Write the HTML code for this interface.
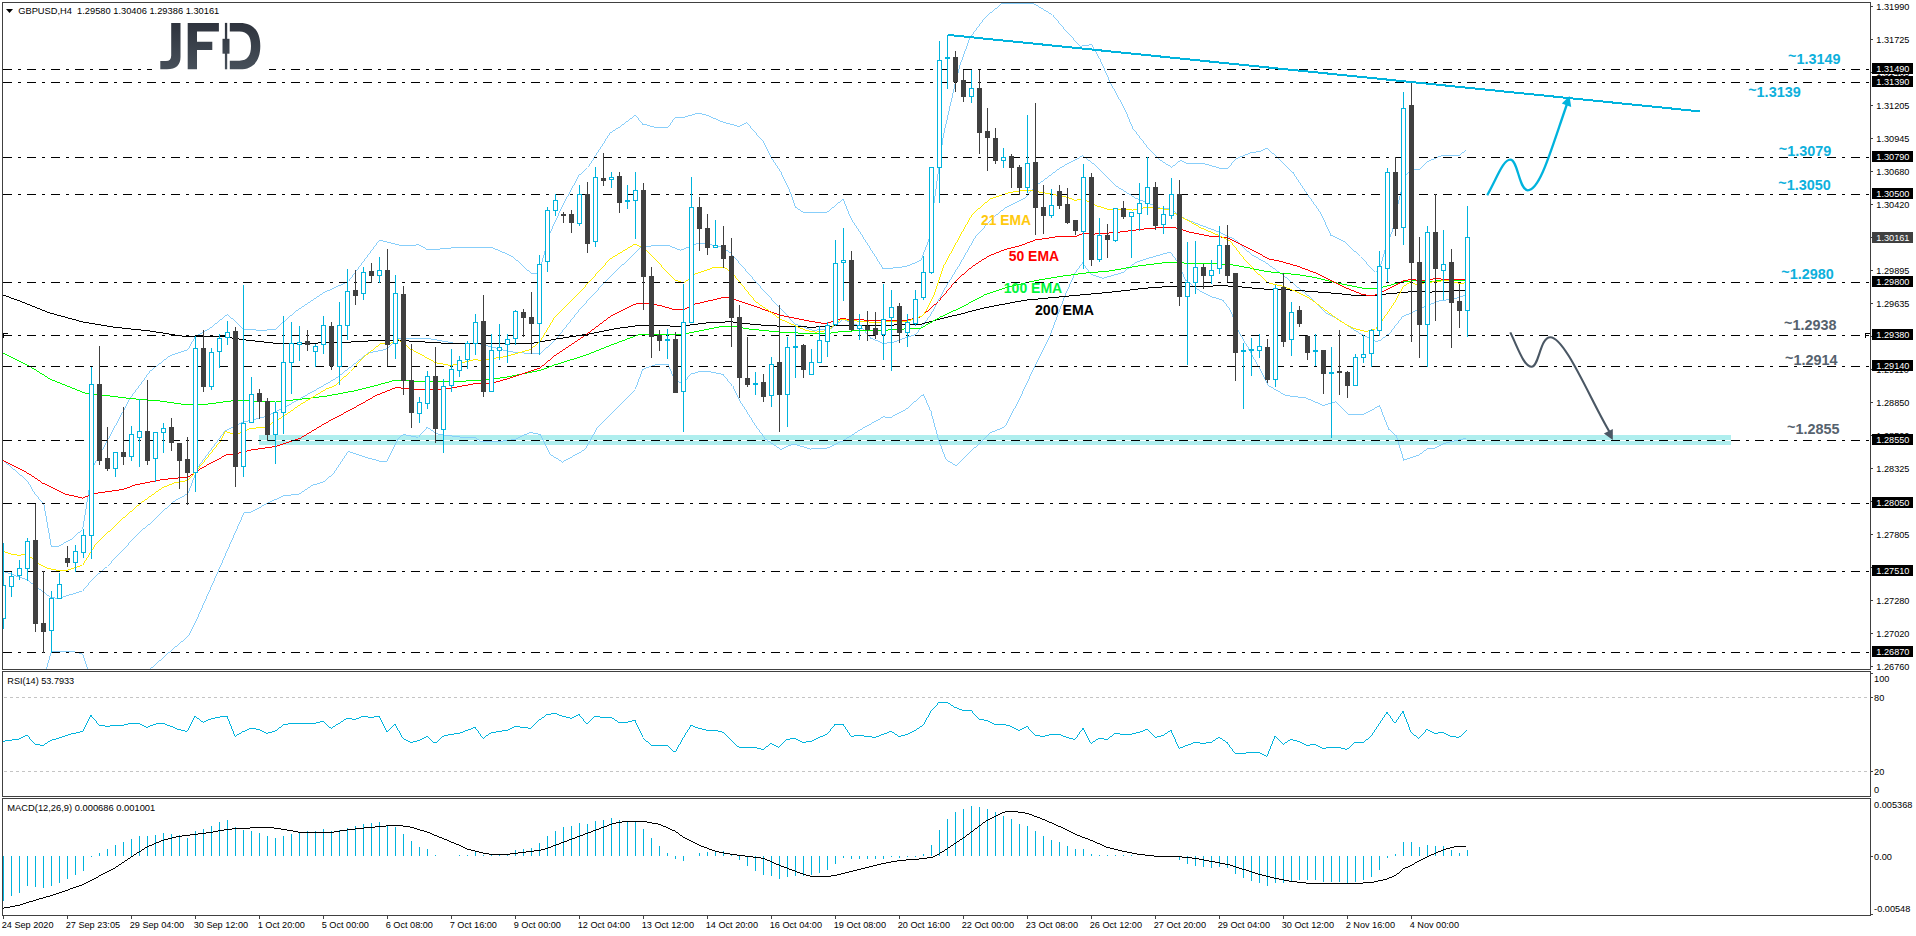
<!DOCTYPE html><html><head><meta charset="utf-8"><title>GBPUSD H4</title><style>html,body{margin:0;padding:0;background:#fff;width:1916px;height:936px;overflow:hidden}</style></head><body><svg width="1916" height="936" viewBox="0 0 1916 936" style="position:absolute;left:0;top:0;font-family:'Liberation Sans',sans-serif">
<defs><clipPath id="cm"><rect x="3" y="3" width="1867" height="666"/></clipPath>
<linearGradient id="lg" gradientUnits="userSpaceOnUse" x1="0" y1="22.9" x2="0" y2="69.3"><stop offset="0" stop-color="#2e333d"/><stop offset="1" stop-color="#47505a"/></linearGradient></defs>
<rect width="1916" height="936" fill="#fff"/>
<g clip-path="url(#cm)">
<rect x="259" y="435" width="1472" height="10" fill="#afeeee" shape-rendering="crispEdges"/>
<rect x="259" y="440" width="1472" height="1" fill="#fff" shape-rendering="crispEdges"/>
<path d="M2 459.5h1M3 460.5h1M4 461.5h1M5 462.5h1M6 463.5h1M7 464.5h2M9 465.5h1M10 466.5h1M11 467.5h1M12 468.5h1M13 469.5h2M15 470.5h1M16 471.5h1M17 472.5h1M18 473.5h1M19 474.5h1M20 475.5h2M22 476.5h1M23 477.5h1M24 478.5h1M25 479.5h1M26 480.5h1M27.5 481v1M28.5 482v2M29.5 484v1M30.5 485v2M31.5 487v2M32.5 489v2M33.5 491v1M34.5 492v2M35.5 494v1M36.5 495v1M37.5 496v1M38.5 497v2M39.5 499v1M40.5 500v1M41.5 501v1M42.5 502v1M43.5 503v1M43.5 504v1M44.5 505v6M45.5 511v5M46.5 516v6M47.5 522v6M48.5 528v5M49.5 533v6M50.5 539v6M51.5 545v2M51 546.5h8M59 545.5h2M61 544.5h2M63 543.5h1M64 542.5h2M66 541.5h2M68 540.5h2M70 539.5h2M72 538.5h1M73 537.5h1M74 536.5h1M75 535.5h1M76 534.5h1M77 533.5h1M78 532.5h2M80 531.5h1M81 530.5h1M88.5 490v6M87.5 496v6M86.5 502v7M85.5 509v6M84.5 515v6M83.5 521v6M82.5 527v2M93.5 465v5M92.5 470v5M91.5 475v5M90.5 480v5M89.5 485v5M107.5 440v1M106.5 441v2M105.5 443v2M104.5 445v2M103.5 447v2M102.5 449v1M101.5 450v2M100.5 452v2M99.5 454v2M98.5 456v2M97.5 458v2M96.5 460v1M95.5 461v2M94.5 463v2M130.5 398v1M129.5 399v1M128.5 400v2M127.5 402v2M126.5 404v2M125.5 406v2M124.5 408v2M123.5 410v2M122.5 412v1M121.5 413v2M120.5 415v2M119.5 417v2M118.5 419v2M117.5 421v2M116.5 423v2M115.5 425v1M114.5 426v2M113.5 428v2M112.5 430v2M111.5 432v2M110.5 434v2M109.5 436v2M108.5 438v1M107.5 439v1M149.5 371v2M148.5 373v1M147.5 374v1M146.5 375v2M145.5 377v1M144.5 378v2M143.5 380v1M142.5 381v1M141.5 382v2M140.5 384v1M139.5 385v1M138.5 386v2M137.5 388v1M136.5 389v1M135.5 390v2M134.5 392v1M133.5 393v1M132.5 394v2M131.5 396v1M130.5 397v1M150 370.5h2M152 369.5h1M153 368.5h1M154 367.5h1M155 366.5h2M157 365.5h1M158 364.5h1M159 363.5h2M161 362.5h1M162 361.5h1M163 360.5h1M164 359.5h2M166 358.5h1M167 357.5h1M168 356.5h2M170 355.5h2M172 354.5h3M175 353.5h3M178 352.5h3M181 351.5h3M184 350.5h3M187 349.5h1M195.5 336v1M194.5 337v2M193.5 339v2M192.5 341v1M191.5 342v2M190.5 344v2M189.5 346v2M188.5 348v1M195 336.5h1M196 335.5h2M198 334.5h2M200 333.5h2M202 332.5h1M203 331.5h2M205 330.5h2M207 329.5h2M209 328.5h1M210 327.5h2M212 326.5h1M213 325.5h1M214 324.5h1M215 323.5h2M217 322.5h1M218 321.5h1M219 320.5h1M220 319.5h2M222 318.5h1M223 317.5h1M224 316.5h1M225 315.5h2M227 314.5h1M228 315.5h1M229 316.5h1M230 317.5h1M231 318.5h2M233 319.5h1M234 320.5h1M235 321.5h1M236 322.5h1M237 323.5h1M238 324.5h1M239 325.5h1M240 326.5h1M241 327.5h1M242 328.5h1M243 329.5h13M256 330.5h7M263 330.5h4M267 329.5h8M275 329.5h1M276 328.5h1M277 327.5h1M278 326.5h1M279 325.5h1M280 324.5h1M281 323.5h1M282 322.5h2M284 321.5h1M285 320.5h1M286 319.5h1M287 318.5h1M288 317.5h1M289 316.5h1M290 315.5h2M292 314.5h1M293 313.5h1M294 312.5h1M295 311.5h1M296 310.5h2M298 309.5h1M299 308.5h2M301 307.5h1M302 306.5h2M304 305.5h1M305 304.5h2M307 303.5h1M308 302.5h2M310 301.5h1M311 300.5h2M313 299.5h1M314 298.5h2M316 297.5h1M317 296.5h2M319 295.5h1M320 294.5h2M322 293.5h1M323 292.5h2M325 291.5h2M327 290.5h3M330 289.5h2M332 288.5h2M334 287.5h2M336 286.5h2M338 285.5h3M341 284.5h2M343 283.5h2M345 282.5h2M347 281.5h1M379.5 240v1M378.5 241v1M377.5 242v1M376.5 243v2M375.5 245v1M374.5 246v1M373.5 247v2M372.5 249v1M371.5 250v1M370.5 251v2M369.5 253v1M368.5 254v1M367.5 255v2M366.5 257v1M365.5 258v1M364.5 259v2M363.5 261v1M362.5 262v1M361.5 263v2M360.5 265v1M359.5 266v1M358.5 267v2M357.5 269v1M356.5 270v1M355.5 271v2M354.5 273v1M353.5 274v1M352.5 275v2M351.5 277v1M350.5 278v1M349.5 279v2M379 240.5h4M383 241.5h4M387 242.5h4M391 243.5h4M395 244.5h4M399 245.5h4M403 245.5h13M416 244.5h2M418 244.5h1M419 245.5h2M421 246.5h2M423 247.5h2M425 248.5h1M426 249.5h2M428 249.5h12M440 248.5h11M451 247.5h29M480 247.5h12M492 247.5h1M493 248.5h2M495 249.5h3M498 250.5h2M500 251.5h2M502 252.5h3M505 253.5h2M507 254.5h2M509 255.5h2M511 256.5h1M512 256.5h1M513 257.5h1M514 258.5h1M515 259.5h1M516 260.5h2M518 261.5h1M519 262.5h1M520 263.5h1M521 264.5h1M522 265.5h1M523 266.5h1M524 267.5h1M525 268.5h1M526 269.5h1M527 270.5h2M529 271.5h1M530 272.5h1M531 273.5h6M537 272.5h2M549.5 233v4M548.5 237v3M547.5 240v4M546.5 244v3M545.5 247v4M544.5 251v4M543.5 255v3M542.5 258v4M541.5 262v4M540.5 266v3M539.5 269v3M562.5 205v2M561.5 207v2M560.5 209v2M559.5 211v2M558.5 213v3M557.5 216v2M556.5 218v2M555.5 220v2M554.5 222v2M553.5 224v2M552.5 226v3M551.5 229v2M550.5 231v2M578.5 175v2M577.5 177v2M576.5 179v2M575.5 181v2M574.5 183v2M573.5 185v1M572.5 186v2M571.5 188v2M570.5 190v2M569.5 192v2M568.5 194v2M567.5 196v1M566.5 197v2M565.5 199v2M564.5 201v2M563.5 203v2M579 174.5h2M581 173.5h1M582 172.5h1M583 171.5h1M584 170.5h1M585 169.5h1M586 168.5h1M610.5 132v1M609.5 133v2M608.5 135v1M607.5 136v2M606.5 138v1M605.5 139v2M604.5 141v2M603.5 143v1M602.5 144v2M601.5 146v1M600.5 147v2M599.5 149v1M598.5 150v2M597.5 152v1M596.5 153v2M595.5 155v1M594.5 156v2M593.5 158v2M592.5 160v1M591.5 161v2M590.5 163v1M589.5 164v2M588.5 166v1M610 132.5h2M612 131.5h1M613 130.5h2M615 129.5h1M616 128.5h2M618 127.5h2M620 126.5h1M621 125.5h1M622 124.5h2M624 123.5h1M625 122.5h1M626 121.5h2M628 120.5h1M629 119.5h1M630 118.5h2M632 117.5h1M633 116.5h1M634 115.5h1M635.5 115v1M636.5 116v1M637.5 117v1M638.5 118v2M639.5 120v1M640.5 121v1M641.5 122v1M642.5 123v1M642 124.5h5M647 125.5h3M650 126.5h4M654 127.5h1M655 127.5h13M675.5 117v1M674.5 118v1M673.5 119v1M672.5 120v2M671.5 122v1M670.5 123v2M669.5 125v1M668.5 126v1M675 117.5h9M684 117.5h1M685 116.5h3M688 115.5h4M692 114.5h3M695 113.5h3M698 113.5h4M702 114.5h3M705 114.5h1M706 115.5h3M709 116.5h2M711 117.5h2M713 118.5h3M716 119.5h2M718 120.5h2M720 121.5h3M723 122.5h3M726 123.5h4M730 124.5h4M734 125.5h3M737 126.5h2M739 126.5h1M740 125.5h2M742 124.5h2M744 123.5h2M746.5 122v1M747.5 123v1M748.5 124v1M749.5 125v1M750.5 126v2M751.5 128v1M752.5 129v1M753.5 130v1M754.5 131v1M755.5 132v1M756.5 133v2M757.5 135v1M758.5 136v1M759.5 137v1M760.5 138v1M761.5 139v1M762.5 140v1M763.5 141v2M764.5 143v2M765.5 145v2M766.5 147v2M767.5 149v2M768.5 151v2M769.5 153v2M770.5 155v1M770.5 156v1M771.5 157v2M772.5 159v1M773.5 160v2M774.5 162v1M775.5 163v2M776.5 165v1M777.5 166v2M778.5 168v1M779.5 169v2M780.5 171v1M781.5 172v3M782.5 175v2M783.5 177v2M784.5 179v2M785.5 181v2M786.5 183v2M787.5 185v2M788.5 187v2M789.5 189v3M790.5 192v2M791.5 194v3M792.5 197v3M793.5 200v3M794.5 203v3M795.5 206v1M795 207.5h2M797 208.5h1M798 209.5h2M800 210.5h1M801 211.5h2M803 212.5h24M827 211.5h2M829 210.5h1M830 209.5h1M831 208.5h1M832 207.5h2M834 206.5h1M835 205.5h1M836 204.5h1M837 203.5h1M838 202.5h2M840 201.5h1M841 200.5h1M842 199.5h1M843.5 199v2M844.5 201v3M845.5 204v2M846.5 206v3M847.5 209v2M848.5 211v3M849.5 214v2M850.5 216v2M851.5 218v2M852.5 220v2M853.5 222v1M854.5 223v2M855.5 225v1M856.5 226v2M857.5 228v1M858.5 229v2M859.5 231v1M860.5 232v1M860.5 233v1M861.5 234v1M862.5 235v2M863.5 237v2M864.5 239v1M865.5 240v2M866.5 242v1M867.5 243v2M868.5 245v1M869.5 246v2M870.5 248v2M871.5 250v1M872.5 251v2M873.5 253v1M874.5 254v2M875.5 256v1M876.5 257v2M877.5 259v2M878.5 261v1M879.5 262v2M880.5 264v1M881.5 265v2M882.5 267v2M883 268.5h10M893 267.5h9M902 266.5h3M905 266.5h2M907 265.5h3M910 264.5h2M912 263.5h3M915 262.5h2M917 261.5h2M919 260.5h2M930.5 234v3M929.5 237v2M928.5 239v3M927.5 242v3M926.5 245v2M925.5 247v3M924.5 250v2M923.5 252v3M922.5 255v3M921.5 258v2M933.5 203v10M932.5 213v11M931.5 224v10M943.5 135v3M942.5 138v7M941.5 145v8M940.5 153v7M939.5 160v7M938.5 167v7M937.5 174v7M936.5 181v8M935.5 189v7M934.5 196v7M955.5 80v4M954.5 84v5M953.5 89v4M952.5 93v5M951.5 98v4M950.5 102v4M949.5 106v5M948.5 111v4M947.5 115v5M946.5 120v4M945.5 124v4M944.5 128v5M943.5 133v2M959.5 65v4M958.5 69v4M957.5 73v3M956.5 76v4M970.5 37v1M969.5 38v2M968.5 40v3M967.5 43v3M966.5 46v3M965.5 49v2M964.5 51v3M963.5 54v3M962.5 57v3M961.5 60v2M960.5 62v3M985.5 17v1M984.5 18v1M983.5 19v1M982.5 20v2M981.5 22v1M980.5 23v1M979.5 24v2M978.5 26v1M977.5 27v1M976.5 28v2M975.5 30v1M974.5 31v1M973.5 32v2M972.5 34v1M971.5 35v1M970.5 36v1M985 17.5h1M986 16.5h1M987 15.5h1M988 14.5h1M989 13.5h1M990 12.5h2M992 11.5h1M993 10.5h1M994 9.5h1M995 8.5h2M997 7.5h1M998 6.5h1M999 5.5h1M1000 4.5h1M1001 3.5h1M1002 3.5h30M1032 3.5h2M1034 4.5h2M1036 5.5h2M1038 6.5h1M1039 7.5h2M1041 8.5h2M1043 9.5h1M1044 10.5h2M1046 11.5h2M1048 12.5h1M1049 13.5h2M1051 14.5h1M1053.5 15v2M1054.5 17v1M1055.5 18v1M1056.5 19v1M1057.5 20v1M1058.5 21v2M1059.5 23v1M1060.5 24v1M1061.5 25v1M1062.5 26v1M1063.5 27v2M1064.5 29v1M1065.5 30v1M1066.5 31v1M1067.5 32v1M1068.5 33v1M1069.5 34v1M1070.5 35v1M1071.5 36v1M1072.5 37v1M1073.5 38v2M1074.5 40v1M1075.5 41v1M1076.5 42v1M1077.5 43v1M1078.5 44v1M1079.5 45v1M1080 46.5h2M1082 45.5h7M1089 44.5h2M1091.5 44v1M1092.5 45v2M1093.5 47v2M1094.5 49v2M1095.5 51v1M1096.5 52v2M1097.5 54v2M1098.5 56v2M1099.5 58v1M1100.5 59v1M1100.5 60v2M1101.5 62v2M1102.5 64v2M1103.5 66v2M1104.5 68v3M1105.5 71v2M1106.5 73v2M1107.5 75v2M1108.5 77v3M1109.5 80v2M1110.5 82v2M1111.5 84v2M1112.5 86v2M1113.5 88v1M1114.5 89v2M1115.5 91v2M1116.5 93v2M1117.5 95v2M1118.5 97v2M1119.5 99v1M1120.5 100v2M1121.5 102v2M1122.5 104v2M1123.5 106v2M1124.5 108v2M1125.5 110v2M1126.5 112v2M1127.5 114v3M1128.5 117v2M1129.5 119v3M1130.5 122v2M1131.5 124v2M1132.5 126v2M1132.5 128v1M1133.5 129v1M1134.5 130v1M1135.5 131v1M1136.5 132v2M1137.5 134v1M1138.5 135v1M1139.5 136v2M1140.5 138v1M1141.5 139v1M1142.5 140v1M1143.5 141v2M1144.5 143v1M1145.5 144v1M1146.5 145v2M1147 147.5h1M1148 148.5h1M1149 149.5h1M1150 150.5h1M1151 151.5h1M1152 152.5h1M1153 153.5h1M1154 154.5h1M1155 155.5h1M1156 156.5h1M1157 157.5h1M1158 158.5h1M1159 159.5h1M1160 160.5h2M1162 161.5h1M1163 162.5h2M1165 163.5h1M1166 164.5h2M1168 165.5h2M1170 166.5h1M1171 167.5h1M1172 166.5h1M1173 165.5h2M1175 164.5h1M1176 163.5h1M1177 162.5h1M1178 161.5h2M1180 160.5h2M1182 161.5h2M1184 162.5h2M1186 163.5h2M1188 163.5h15M1203 163.5h2M1205 164.5h4M1209 165.5h3M1212 166.5h4M1216 167.5h3M1219 168.5h1M1220 168.5h8M1235.5 159v1M1234.5 160v1M1233.5 161v1M1232.5 162v1M1231.5 163v2M1230.5 165v1M1229.5 166v1M1228.5 167v1M1235 159.5h1M1236 158.5h2M1238 157.5h2M1240 156.5h3M1243 155.5h2M1245 154.5h3M1248 153.5h2M1250 152.5h6M1256 151.5h3M1259 151.5h2M1261 150.5h2M1263 149.5h2M1265 148.5h1M1266 148.5h2M1268 149.5h1M1269 150.5h1M1270 151.5h1M1271 152.5h1M1272 153.5h2M1274 154.5h1M1275 155.5h1M1276 156.5h1M1277 157.5h1M1278 158.5h1M1279 159.5h1M1280 160.5h1M1281 161.5h1M1282 162.5h1M1283 163.5h1M1284 164.5h1M1285 165.5h1M1286 166.5h1M1287 167.5h1M1288 168.5h1M1289 169.5h1M1290 170.5h1M1291 171.5h1M1292 172.5h1M1293.5 172v2M1294.5 174v2M1295.5 176v1M1296.5 177v2M1297.5 179v1M1298.5 180v2M1299.5 182v1M1300.5 183v2M1301.5 185v1M1302.5 186v2M1303.5 188v1M1304.5 189v2M1305.5 191v1M1306.5 192v2M1307.5 194v1M1308.5 195v2M1309.5 197v1M1310.5 198v1M1311.5 199v2M1312.5 201v1M1313.5 202v2M1314.5 204v1M1315.5 205v1M1316.5 206v2M1317.5 208v1M1318.5 209v2M1319.5 211v1M1320.5 212v1M1320.5 213v1M1321.5 214v2M1322.5 216v2M1323.5 218v2M1324.5 220v2M1325.5 222v3M1326.5 225v2M1327.5 227v2M1328.5 229v2M1329.5 231v2M1330.5 233v2M1330 235.5h3M1333 236.5h2M1335 237.5h2M1337 238.5h2M1339 239.5h2M1341 240.5h2M1343 241.5h2M1345 242.5h1M1346 243.5h1M1347 244.5h1M1348 245.5h1M1349 246.5h1M1350 247.5h1M1351 248.5h1M1352 249.5h1M1353 250.5h1M1354 251.5h2M1356 252.5h1M1357 253.5h1M1358 254.5h1M1359 255.5h1M1361.5 257v1M1362.5 258v1M1363.5 259v1M1364.5 260v1M1365.5 261v1M1366.5 262v2M1367.5 264v1M1368.5 265v1M1369.5 266v1M1370.5 267v1M1371.5 268v1M1372.5 269v1M1373.5 270v1M1374.5 271v1M1379.5 268v1M1378.5 269v1M1377.5 270v1M1376.5 271v1M1384.5 250v4M1383.5 254v3M1382.5 257v4M1381.5 261v3M1380.5 264v4M1392.5 230v2M1391.5 232v2M1390.5 234v3M1389.5 237v3M1388.5 240v2M1387.5 242v3M1386.5 245v3M1385.5 248v2M1398.5 200v4M1397.5 204v5M1396.5 209v5M1395.5 214v4M1394.5 218v5M1393.5 223v5M1392.5 228v2M1401.5 190v2M1400.5 192v4M1399.5 196v4M1404.5 175v4M1403.5 179v4M1402.5 183v4M1401.5 187v3M1405 174.5h2M1407 173.5h1M1408 172.5h1M1409 171.5h2M1411 170.5h1M1412 169.5h8M1420 168.5h1M1421 167.5h1M1422 166.5h1M1423 165.5h1M1424 164.5h1M1425 163.5h1M1426 162.5h1M1427 161.5h2M1429 160.5h2M1431 159.5h3M1434 158.5h2M1436 157.5h2M1438 156.5h3M1441 155.5h1M1442 155.5h17M1459 155.5h1M1460 154.5h1M1461 153.5h1M1462 152.5h2M1464 151.5h1M1465 150.5h1" fill="none" stroke="#87cefa" stroke-width="1" shape-rendering="crispEdges"/>
<path d="M2 571.5h3M5 572.5h3M8 573.5h3M11 574.5h3M14 575.5h2M16 576.5h3M19 577.5h3M22 578.5h3M25 579.5h2M27 580.5h2M29 581.5h1M30 582.5h1M31 583.5h2M33 584.5h1M34 585.5h1M35 586.5h2M37 587.5h1M38 588.5h1M39 589.5h2M41 590.5h1M42 591.5h1M43 592.5h2M45 593.5h1M46 594.5h1M47 595.5h2M49 596.5h1M50 597.5h5M55 598.5h2M57 598.5h2M59 597.5h4M63 596.5h3M66 595.5h3M69 594.5h4M73 593.5h3M76 592.5h3M79 591.5h3M92.5 579v1M91.5 580v1M90.5 581v1M89.5 582v1M88.5 583v2M87.5 585v1M86.5 586v1M85.5 587v1M84.5 588v1M83.5 589v2M92 579.5h1M93 578.5h1M94 577.5h1M95 576.5h1M96 575.5h1M97 574.5h1M98 573.5h2M100 572.5h1M101 571.5h1M102 570.5h1M103 569.5h1M104 568.5h1M105 567.5h2M140.5 531v1M139.5 532v1M138.5 533v1M137.5 534v1M136.5 535v1M135.5 536v1M134.5 537v1M133.5 538v1M132.5 539v1M131.5 540v1M130.5 541v1M129.5 542v1M128.5 543v2M127.5 545v1M126.5 546v1M125.5 547v1M124.5 548v1M123.5 549v1M122.5 550v1M121.5 551v1M120.5 552v1M119.5 553v1M118.5 554v1M117.5 555v1M116.5 556v1M115.5 557v1M114.5 558v1M113.5 559v1M112.5 560v1M111.5 561v2M110.5 563v1M109.5 564v1M108.5 565v1M140 531.5h1M141 530.5h1M142 529.5h1M143 528.5h2M145 527.5h1M146 526.5h1M147 525.5h1M148 524.5h2M150 523.5h1M151 522.5h1M152 521.5h1M153 520.5h1M154 519.5h1M155 518.5h1M156 517.5h1M157 516.5h1M158 515.5h1M159 514.5h1M160 513.5h1M161 512.5h1M162 511.5h1M163 510.5h1M164 509.5h1M165 508.5h2M167 507.5h1M168 506.5h1M169 505.5h1M170 504.5h1M171 503.5h1M172 502.5h1M173 501.5h2M175 500.5h1M176 499.5h2M178 498.5h2M180 497.5h2M182 496.5h2M184 495.5h1M185 494.5h2M187 493.5h1M197.5 467v3M196.5 470v2M195.5 472v3M194.5 475v3M193.5 478v2M192.5 480v3M191.5 483v3M190.5 486v2M189.5 488v3M188.5 491v2M224.5 431v1M223.5 432v2M222.5 434v1M221.5 435v1M220.5 436v2M219.5 438v1M218.5 439v1M217.5 440v2M216.5 442v1M215.5 443v1M214.5 444v2M213.5 446v1M212.5 447v1M211.5 448v2M210.5 450v1M209.5 451v1M208.5 452v2M207.5 454v1M206.5 455v1M205.5 456v2M204.5 458v1M203.5 459v1M202.5 460v2M201.5 462v1M200.5 463v1M199.5 464v2M198.5 466v1M225 430.5h2M227 429.5h2M229 428.5h2M231 427.5h2M233 426.5h2M235 425.5h2M237 424.5h2M239 423.5h1M240 423.5h1M241 422.5h3M244 421.5h4M248 420.5h4M252 419.5h4M256 418.5h4M260 417.5h4M264 416.5h1M265 416.5h2M267 415.5h2M269 414.5h2M271 413.5h2M273 412.5h2M275 411.5h2M277 410.5h2M279 409.5h2M281 408.5h2M283 407.5h2M285 406.5h2M287 405.5h2M289 404.5h1M290 404.5h1M291 403.5h1M292 402.5h2M294 401.5h2M296 400.5h2M298 399.5h2M300 398.5h1M301 397.5h2M303 396.5h2M305 395.5h2M307 394.5h1M308 393.5h2M310 392.5h2M312 391.5h2M314 390.5h1M315 390.5h1M316 389.5h1M317 388.5h2M319 387.5h2M321 386.5h2M323 385.5h1M324 384.5h2M326 383.5h2M328 382.5h2M330 381.5h1M331 380.5h2M333 379.5h2M335 378.5h1M336 377.5h2M338 376.5h1M339 375.5h1M340 374.5h2M342 373.5h1M343 372.5h1M344 371.5h1M345 370.5h2M347 369.5h1M348 368.5h1M349 367.5h1M350 367.5h1M351 366.5h1M352 365.5h1M353 364.5h1M354 363.5h2M356 362.5h1M357 361.5h1M358 360.5h1M359 359.5h2M361 358.5h1M362 357.5h1M363 356.5h1M364 355.5h2M366 354.5h1M367 353.5h1M368 352.5h5M373 351.5h5M378 350.5h5M383 349.5h2M385 349.5h1M386 348.5h1M387 347.5h2M389 346.5h1M390 345.5h1M391 344.5h1M392 343.5h1M393 342.5h1M394 341.5h1M395 340.5h1M396 339.5h1M397 338.5h1M398 338.5h28M426 338.5h5M431 339.5h6M437 340.5h5M442 341.5h6M448 342.5h5M453 343.5h3M456 343.5h24M480 344.5h4M484 345.5h4M488 346.5h4M492 347.5h4M496 348.5h3M499 349.5h4M503 350.5h4M507 351.5h3M510 351.5h3M513 352.5h11M524 353.5h7M531 353.5h9M540 353.5h1M541 352.5h1M542 351.5h1M543 350.5h1M544 349.5h1M545 348.5h1M546 347.5h2M548 346.5h1M549 345.5h1M550 344.5h1M551 343.5h1M552 342.5h1M553 341.5h1M554 340.5h1M579.5 309v1M578.5 310v2M577.5 312v1M576.5 313v1M575.5 314v1M574.5 315v2M573.5 317v1M572.5 318v1M571.5 319v1M570.5 320v2M569.5 322v1M568.5 323v1M567.5 324v1M566.5 325v2M565.5 327v1M564.5 328v1M563.5 329v1M562.5 330v2M561.5 332v1M560.5 333v1M559.5 334v1M558.5 335v2M557.5 337v1M556.5 338v1M555.5 339v1M605.5 281v1M604.5 282v1M603.5 283v1M602.5 284v1M601.5 285v1M600.5 286v1M599.5 287v1M598.5 288v2M597.5 290v1M596.5 291v1M595.5 292v1M594.5 293v1M593.5 294v1M592.5 295v1M591.5 296v1M590.5 297v1M589.5 298v1M588.5 299v1M587.5 300v1M586.5 301v2M585.5 303v1M584.5 304v1M583.5 305v1M582.5 306v1M581.5 307v1M580.5 308v1M605 281.5h1M606 280.5h1M607 279.5h1M608 278.5h1M609 277.5h1M610 276.5h1M611 275.5h1M612 274.5h1M613 273.5h1M614 272.5h1M615 271.5h1M616 270.5h1M617 269.5h1M618 268.5h1M619 267.5h1M620 266.5h1M621 265.5h1M622 264.5h2M624 263.5h1M625 262.5h1M626 261.5h1M627 260.5h1M628 259.5h1M629 258.5h1M630 257.5h1M631 256.5h1M632 255.5h1M633 254.5h1M634 253.5h1M635 252.5h1M636 251.5h1M637 250.5h1M638 249.5h1M639 248.5h1M640 247.5h5M645 246.5h6M651 245.5h4M655 245.5h13M668 245.5h2M670 246.5h2M672 247.5h3M675 248.5h2M677 249.5h3M680 250.5h1M681 249.5h3M684 248.5h2M686 247.5h3M689 246.5h2M691 245.5h2M693 245.5h1M694 244.5h2M696 243.5h3M699 242.5h1M700 243.5h6M706 244.5h6M712 245.5h6M718 246.5h2M720 246.5h1M721 247.5h2M723 248.5h1M724 249.5h2M726 250.5h2M728 251.5h1M729 252.5h1M730.5 252v1M731.5 253v2M732.5 255v1M733.5 256v1M734.5 257v1M735.5 258v1M736.5 259v1M737.5 260v1M738.5 261v2M739.5 263v1M740.5 264v1M741.5 265v1M742.5 266v1M743.5 267v1M744.5 268v1M745.5 269v2M746.5 271v1M747.5 272v1M748.5 273v1M749.5 274v1M750.5 275v1M751.5 276v1M752.5 277v2M753.5 279v1M754.5 280v1M755.5 281v1M756.5 282v1M757.5 283v1M758.5 284v1M759.5 285v1M760.5 286v2M761.5 288v1M762.5 289v1M763.5 290v1M764.5 291v1M765.5 292v1M766.5 293v1M767.5 294v1M768.5 295v1M769.5 296v1M770.5 297v1M771.5 298v2M772.5 300v1M773.5 301v1M774.5 302v1M775.5 303v1M776.5 304v1M777.5 305v1M778.5 306v1M779.5 307v1M780.5 308v1M781.5 309v1M782.5 310v1M783.5 311v1M784.5 312v1M785.5 313v1M786.5 314v1M787.5 315v1M788.5 316v2M789.5 318v1M790.5 319v1M791.5 320v1M792.5 321v1M793.5 322v1M794.5 323v1M795 324.5h3M798 325.5h3M801 326.5h3M804 327.5h2M806 328.5h3M809 329.5h3M812 330.5h1M813 330.5h4M817 329.5h11M828 328.5h2M830 328.5h2M832 327.5h1M833 326.5h1M834 325.5h2M836 324.5h1M837 323.5h1M838 322.5h2M840 321.5h1M841 320.5h1M842 319.5h1M843 319.5h2M845 320.5h2M847 321.5h3M850 322.5h2M852 323.5h2M854 324.5h3M857 325.5h2M859 326.5h1M860.5 326v1M861.5 327v1M862.5 328v1M863.5 329v1M864.5 330v1M865.5 331v2M866.5 333v1M867.5 334v1M868.5 335v1M869.5 336v1M870.5 337v1M870 338.5h3M873 339.5h2M875 340.5h3M878 341.5h2M880 342.5h2M882 343.5h1M883 343.5h4M887 342.5h6M893 342.5h1M894 341.5h3M897 340.5h3M900 339.5h2M902 338.5h3M905 337.5h3M908 336.5h3M911 335.5h3M914 334.5h2M930.5 314v2M929.5 316v1M928.5 317v1M927.5 318v2M926.5 320v1M925.5 321v1M924.5 322v2M923.5 324v1M922.5 325v1M921.5 326v2M920.5 328v1M919.5 329v1M918.5 330v2M917.5 332v1M916.5 333v1M946.5 286v1M945.5 287v1M944.5 288v2M943.5 290v2M942.5 292v2M941.5 294v2M940.5 296v2M939.5 298v1M938.5 299v2M937.5 301v2M936.5 303v2M935.5 305v2M934.5 307v2M933.5 309v2M932.5 311v1M931.5 312v2M959.5 264v2M958.5 266v1M957.5 267v2M956.5 269v1M955.5 270v2M954.5 272v2M953.5 274v1M952.5 275v2M951.5 277v2M950.5 279v1M949.5 280v2M948.5 282v1M947.5 283v2M946.5 285v1M975.5 237v1M974.5 238v1M973.5 239v2M972.5 241v2M971.5 243v2M970.5 245v1M969.5 246v2M968.5 248v2M967.5 250v2M966.5 252v1M965.5 253v2M964.5 255v2M963.5 257v2M962.5 259v1M961.5 260v2M960.5 262v2M992.5 218v1M991.5 219v1M990.5 220v1M989.5 221v1M988.5 222v1M987.5 223v1M986.5 224v1M985.5 225v1M984.5 226v2M983.5 228v1M982.5 229v1M981.5 230v1M980.5 231v1M979.5 232v1M978.5 233v1M977.5 234v1M976.5 235v1M975.5 236v1M992 218.5h1M993 217.5h1M994 216.5h1M995 215.5h1M996 214.5h2M998 213.5h1M999 212.5h1M1000 211.5h1M1001 210.5h2M1003 209.5h1M1004 208.5h1M1005 207.5h2M1007 206.5h2M1009 205.5h2M1011 204.5h2M1013 203.5h2M1015 202.5h2M1017 201.5h2M1019 200.5h2M1021 199.5h2M1023 198.5h2M1035.5 186v1M1034.5 187v1M1033.5 188v1M1032.5 189v1M1031.5 190v1M1030.5 191v1M1029.5 192v1M1028.5 193v2M1027.5 195v1M1026.5 196v1M1025.5 197v1M1035 186.5h1M1036 185.5h1M1037 184.5h1M1038 183.5h2M1040 182.5h1M1041 181.5h2M1043 180.5h1M1044 179.5h1M1045 178.5h2M1047 177.5h1M1048 176.5h1M1049 175.5h2M1051 174.5h1M1052 173.5h1M1053 172.5h2M1055 171.5h1M1056 170.5h1M1057 169.5h2M1059 168.5h1M1060 167.5h2M1062 166.5h2M1064 165.5h1M1065 164.5h2M1067 163.5h2M1069 162.5h2M1071 161.5h2M1073 160.5h2M1075 159.5h2M1077 158.5h2M1079 157.5h1M1080 156.5h2M1082 155.5h1M1083 156.5h1M1084 157.5h2M1086 158.5h1M1087 159.5h1M1088 160.5h2M1090 161.5h1M1091 162.5h1M1092 163.5h2M1094 164.5h1M1095.5 165v1M1096.5 166v1M1097.5 167v1M1098.5 168v1M1099.5 169v1M1100.5 170v1M1101.5 171v1M1102.5 172v1M1103.5 173v1M1104.5 174v1M1105.5 175v1M1106.5 176v1M1107.5 177v1M1108.5 178v1M1109.5 179v1M1110.5 180v1M1111.5 181v1M1112.5 182v1M1113.5 183v1M1114.5 184v1M1115 185.5h1M1116 186.5h2M1118 187.5h1M1119 188.5h2M1121 189.5h2M1123 190.5h1M1124 191.5h2M1126 192.5h1M1127 193.5h2M1129 194.5h2M1131 195.5h1M1132 196.5h2M1134 197.5h1M1135 198.5h3M1138 199.5h2M1140 200.5h3M1143 201.5h2M1145 202.5h3M1148 203.5h2M1150 204.5h3M1153 205.5h2M1155 206.5h3M1158 207.5h2M1160 208.5h9M1169 209.5h1M1170 209.5h2M1172 210.5h1M1173 211.5h2M1175 212.5h1M1176 213.5h2M1178 214.5h1M1179 215.5h2M1181 216.5h1M1182 217.5h2M1184 218.5h1M1185 219.5h3M1188 220.5h2M1190 221.5h3M1193 222.5h2M1195 223.5h3M1198 224.5h2M1200 225.5h3M1203 226.5h3M1206 227.5h2M1208 228.5h3M1211 229.5h3M1214 230.5h2M1216 231.5h3M1219 232.5h1M1220 232.5h1M1221 233.5h2M1223 234.5h2M1225 235.5h2M1227 236.5h2M1229 237.5h3M1232 238.5h2M1234 239.5h1M1235 240.5h2M1237 241.5h1M1238 242.5h1M1239 243.5h1M1240 244.5h1M1241 245.5h1M1242 246.5h1M1243 247.5h1M1244 248.5h1M1245 249.5h1M1246 250.5h1M1247 251.5h2M1249 252.5h1M1250 253.5h1M1251 254.5h1M1252 255.5h2M1254 256.5h2M1256 257.5h2M1258 258.5h1M1259 259.5h2M1261 260.5h2M1263 261.5h2M1265 262.5h1M1266 263.5h2M1268 264.5h1M1269 265.5h1M1270 266.5h2M1272 267.5h1M1273 268.5h2M1275 269.5h1M1276 270.5h1M1277 271.5h2M1279 272.5h1M1280 273.5h2M1282 274.5h1M1283 275.5h1M1284 276.5h1M1285 277.5h2M1287 278.5h1M1288 279.5h1M1289 280.5h1M1290 281.5h1M1291 282.5h2M1293 283.5h1M1294 284.5h1M1295 285.5h1M1296 286.5h1M1297 287.5h1M1298 287.5h1M1299 288.5h1M1300 289.5h1M1301 290.5h1M1302 291.5h2M1304 292.5h1M1305 293.5h1M1306 294.5h1M1307 295.5h2M1309 296.5h1M1310 297.5h1M1311 298.5h1M1312 299.5h1M1313 300.5h1M1314 301.5h1M1315 302.5h1M1316 303.5h1M1317 304.5h1M1318 305.5h1M1319 306.5h1M1320 307.5h1M1321 308.5h1M1322 309.5h1M1323 310.5h1M1324 311.5h1M1325 312.5h1M1326 313.5h2M1328 314.5h2M1330 315.5h2M1332 316.5h2M1334 317.5h1M1335 317.5h1M1336 318.5h2M1338 319.5h1M1339 320.5h2M1341 321.5h1M1342 322.5h2M1344 323.5h1M1345 324.5h2M1347 325.5h1M1348 326.5h2M1350 327.5h1M1351 328.5h2M1353 329.5h1M1354 330.5h2M1356 331.5h2M1358 332.5h1M1359 333.5h2M1361 334.5h2M1363 335.5h2M1365 336.5h2M1367 337.5h2M1369 338.5h2M1371 339.5h2M1373 340.5h2M1375 341.5h3M1378 340.5h2M1380 340.5h1M1381 339.5h1M1382 338.5h1M1383 337.5h2M1385 336.5h1M1386 335.5h1M1387 334.5h2M1389 333.5h1M1402.5 316v1M1401.5 317v2M1400.5 319v1M1399.5 320v1M1398.5 321v2M1397.5 323v1M1396.5 324v1M1395.5 325v1M1394.5 326v2M1393.5 328v1M1392.5 329v1M1391.5 330v2M1390.5 332v1M1402 316.5h2M1404 315.5h2M1406 314.5h3M1409 313.5h2M1411 312.5h1M1412 312.5h1M1413 311.5h2M1415 310.5h2M1417 309.5h3M1420 308.5h2M1422 307.5h2M1424 306.5h1M1425 306.5h1M1426 305.5h3M1429 304.5h2M1431 303.5h3M1434 302.5h2M1436 301.5h3M1439 300.5h1M1440 300.5h6M1446 299.5h6M1452 299.5h2M1454 298.5h3M1457 297.5h3M1460 296.5h3M1463 295.5h2" fill="none" stroke="#87cefa" stroke-width="1" shape-rendering="crispEdges"/>
<path d="M51.5 651v2M50.5 653v3M49.5 656v4M48.5 660v3M47.5 663v4M46.5 667v2M51 651.5h21M72 651.5h3M75 652.5h4M79 653.5h3M82.5 654v1M83.5 655v3M84.5 658v3M85.5 661v3M86.5 664v3M87.5 667v2" fill="none" stroke="#87cefa" stroke-width="1" shape-rendering="crispEdges"/>
<path d="M150 668.5h1M151 667.5h2M153 666.5h1M154 665.5h1M155 664.5h1M156 663.5h1M157 662.5h1M158 661.5h1M159 660.5h2M161 659.5h1M162 658.5h1M163 657.5h1M164 656.5h1M165 655.5h1M166 654.5h1M167 653.5h1M168 652.5h2M170 651.5h1M171 650.5h1M172 649.5h1M173 648.5h1M174 647.5h1M175 646.5h2M177 645.5h1M178 644.5h1M179 643.5h1M180 642.5h1M181 641.5h2M183 640.5h1M184 639.5h1M185 638.5h1M186 637.5h1M187 636.5h1M195.5 622v1M194.5 623v2M193.5 625v2M192.5 627v2M191.5 629v2M190.5 631v2M189.5 633v2M188.5 635v1M244.5 512v1M243.5 513v2M242.5 515v2M241.5 517v3M240.5 520v2M239.5 522v2M238.5 524v2M237.5 526v3M236.5 529v2M235.5 531v2M234.5 533v2M233.5 535v3M232.5 538v2M231.5 540v2M230.5 542v2M229.5 544v3M228.5 547v2M227.5 549v2M226.5 551v2M225.5 553v3M224.5 556v2M223.5 558v2M222.5 560v3M221.5 563v2M220.5 565v2M219.5 567v2M218.5 569v3M217.5 572v2M216.5 574v2M215.5 576v2M214.5 578v3M213.5 581v2M212.5 583v2M211.5 585v2M210.5 587v3M209.5 590v2M208.5 592v2M207.5 594v2M206.5 596v3M205.5 599v2M204.5 601v2M203.5 603v2M202.5 605v3M201.5 608v2M200.5 610v2M199.5 612v2M198.5 614v3M197.5 617v2M196.5 619v2M195.5 621v1M244 512.5h6M250 512.5h1M251 511.5h2M253 510.5h2M255 509.5h2M257 508.5h2M259 507.5h2M261 506.5h1M262 505.5h2M264 504.5h2M266 503.5h2M268 502.5h2M270 501.5h2M272 500.5h2M274 499.5h3M277 498.5h2M279 497.5h2M281 496.5h2M283 495.5h8M291 494.5h8M299 493.5h2M301 492.5h1M302 491.5h2M304 490.5h1M305 489.5h2M307 488.5h1M308 487.5h2M310 486.5h1M311 485.5h2M313 484.5h4M317 483.5h3M320 482.5h3M323 481.5h2M325 480.5h1M326 479.5h1M327 478.5h1M328 477.5h1M329 476.5h2M331 475.5h1M332 474.5h1M348.5 451v1M347.5 452v1M346.5 453v2M345.5 455v1M344.5 456v2M343.5 458v1M342.5 459v2M341.5 461v1M340.5 462v2M339.5 464v1M338.5 465v2M337.5 467v1M336.5 468v2M335.5 470v1M334.5 471v2M333.5 473v1M348 451.5h2M350 452.5h3M353 453.5h3M356 454.5h3M359 455.5h3M362 456.5h3M365 457.5h3M368 458.5h4M372 459.5h4M376 460.5h3M379 461.5h8M398.5 438v1M397.5 439v2M396.5 441v2M395.5 443v2M394.5 445v2M393.5 447v2M392.5 449v2M391.5 451v2M390.5 453v2M389.5 455v2M388.5 457v2M387.5 459v2M398 438.5h1M399 437.5h1M400 436.5h1M401 435.5h2M403 434.5h3M406 435.5h5M411 436.5h5M416 437.5h2M426.5 427v2M425.5 429v1M424.5 430v1M423.5 431v1M422.5 432v1M421.5 433v1M420.5 434v1M419.5 435v2M427 427.5h1M428 428.5h2M430 429.5h1M431 430.5h2M433 431.5h1M434 432.5h2M436 433.5h2M438 434.5h5M443 435.5h9M452 436.5h8M460 437.5h3M463 437.5h13M476 438.5h1M477 439.5h2M479 440.5h1M480 441.5h20M500 441.5h3M503 440.5h8M511 439.5h4M515 439.5h1M516 438.5h2M518 437.5h2M520 436.5h2M522 435.5h2M524 434.5h3M527 433.5h2M529 432.5h1M530 432.5h3M533 433.5h5M538 434.5h2M540.5 434v2M541.5 436v2M542.5 438v2M543.5 440v2M544.5 442v2M545.5 444v2M546.5 446v2M547.5 448v2M548.5 450v2M549.5 452v2M550 454.5h1M551 455.5h2M553 456.5h1M554 457.5h2M556 458.5h2M558 459.5h1M559 460.5h2M561 461.5h1M562 462.5h1M563 461.5h1M564 460.5h2M566 459.5h2M568 458.5h2M570 457.5h2M572 456.5h1M573 455.5h2M575 454.5h2M577 453.5h2M579 452.5h2M581 451.5h1M582 450.5h2M584 449.5h1M597.5 427v1M596.5 428v2M595.5 430v2M594.5 432v2M593.5 434v1M592.5 435v2M591.5 437v2M590.5 439v2M589.5 441v2M588.5 443v1M587.5 444v2M586.5 446v2M585.5 448v1M620.5 404v1M619.5 405v1M618.5 406v1M617.5 407v1M616.5 408v1M615.5 409v1M614.5 410v1M613.5 411v1M612.5 412v1M611.5 413v1M610.5 414v1M609.5 415v1M608.5 416v1M607.5 417v1M606.5 418v1M605.5 419v1M604.5 420v1M603.5 421v1M602.5 422v1M601.5 423v1M600.5 424v1M599.5 425v1M598.5 426v1M620 404.5h1M621 403.5h1M622 402.5h1M623 401.5h1M624 400.5h1M625 399.5h1M626 398.5h1M627 397.5h1M628 396.5h1M629 395.5h1M630 394.5h1M631 393.5h1M632 392.5h1M633 391.5h1M634 390.5h1M642.5 369v2M641.5 371v3M640.5 374v3M639.5 377v2M638.5 379v3M637.5 382v3M636.5 385v2M635.5 387v2M642 369.5h2M644 368.5h2M646 367.5h3M649 366.5h3M652 365.5h3M655 364.5h13M668.5 364v3M669.5 367v2M670.5 369v2M671.5 371v3M672.5 374v2M673.5 376v2M674.5 378v3M675 381.5h4M679 382.5h5M690.5 374v1M689.5 375v1M688.5 376v1M687.5 377v2M686.5 379v1M685.5 380v1M684.5 381v1M690 374.5h1M691 373.5h4M695 372.5h3M698 371.5h2M700 371.5h10M710 371.5h1M711 372.5h5M716 373.5h5M721 374.5h2M723.5 374v2M724.5 376v1M725.5 377v1M726.5 378v1M727.5 379v2M728.5 381v1M729.5 382v1M730.5 383v1M731.5 384v2M733.5 386v3M734.5 389v2M735.5 391v2M736.5 393v2M737.5 395v2M738.5 397v2M739.5 399v2M740.5 401v2M741.5 403v1M742.5 404v2M743.5 406v1M744.5 407v2M745.5 409v1M746.5 410v2M747.5 412v2M748.5 414v1M749.5 415v2M750.5 417v1M751.5 418v2M752.5 420v2M753.5 422v1M754.5 423v2M755.5 425v1M756.5 426v2M757.5 428v1M758.5 429v1M759.5 430v2M760.5 432v1M761.5 433v1M762.5 434v2M763.5 436v1M764.5 437v2M765 439.5h2M767 440.5h1M768 441.5h2M770 442.5h1M771 443.5h2M773 444.5h1M774 445.5h2M776 446.5h1M777 447.5h2M779 448.5h1M780 449.5h2M782 448.5h2M784 447.5h2M786 446.5h2M788 445.5h3M791 444.5h2M793 444.5h4M797 445.5h3M800 446.5h4M804 447.5h3M807 448.5h3M810 449.5h1M811 448.5h16M827 447.5h3M830 446.5h2M832 445.5h2M834 444.5h2M836 443.5h2M838 442.5h2M840 441.5h3M843 440.5h1M844 439.5h2M846 438.5h1M847 437.5h2M849 436.5h2M851 435.5h1M852 434.5h2M854 433.5h1M855 432.5h2M857 431.5h1M858 430.5h2M860 429.5h2M862 428.5h1M863 427.5h2M865 426.5h2M867 425.5h2M869 424.5h2M871 423.5h1M872 422.5h2M874 421.5h2M876 420.5h2M878 419.5h2M880 418.5h1M881 417.5h2M883 416.5h2M885 417.5h5M890 417.5h2M892 416.5h1M893 415.5h2M895 414.5h2M897 413.5h2M899 412.5h2M901 411.5h2M903 410.5h2M905 409.5h1M906 408.5h2M908 407.5h1M909 406.5h1M910 405.5h1M911 404.5h1M912 403.5h1M913 402.5h1M914 401.5h2M916 400.5h1M917 399.5h1M918 398.5h1M919 397.5h1M920 396.5h1M921 395.5h2M923.5 394v2M924.5 396v2M925.5 398v2M926.5 400v3M927.5 403v2M928.5 405v2M929.5 407v3M930.5 410v1M931.5 411v5M932.5 416v3M933.5 419v4M934.5 423v4M935.5 427v3M936.5 430v4M937.5 434v4M938.5 438v1M938.5 439v2M939.5 441v3M940.5 444v2M941.5 446v3M942.5 449v3M943.5 452v2M944.5 454v3M945.5 457v2M946 459.5h1M947 460.5h1M948 461.5h2M950 462.5h2M952 463.5h1M953 464.5h2M955 465.5h1M956 465.5h1M957 464.5h1M958 463.5h1M959 462.5h1M960 461.5h1M961 460.5h1M962 459.5h1M963 458.5h1M964 457.5h1M965 456.5h1M966 455.5h1M967 454.5h1M968 453.5h1M969 452.5h1M970 451.5h1M971 450.5h1M972 449.5h1M973 448.5h1M974 447.5h2M976 446.5h1M977 445.5h1M978 444.5h1M979 443.5h1M980 442.5h1M981 441.5h1M982 440.5h1M983 439.5h1M984 438.5h1M985 437.5h1M986 436.5h1M987 435.5h1M988 434.5h1M989 433.5h1M990 432.5h2M992 431.5h3M995 430.5h2M997 429.5h3M1000 428.5h2M1002 427.5h2M1004 426.5h1M1020.5 397v1M1019.5 398v2M1018.5 400v2M1017.5 402v2M1016.5 404v2M1015.5 406v2M1014.5 408v1M1013.5 409v2M1012.5 411v2M1011.5 413v2M1010.5 415v2M1009.5 417v2M1008.5 419v2M1007.5 421v2M1006.5 423v2M1005.5 425v1M1035.5 365v1M1034.5 366v2M1033.5 368v2M1032.5 370v2M1031.5 372v2M1030.5 374v2M1029.5 376v3M1028.5 379v2M1027.5 381v2M1026.5 383v2M1025.5 385v2M1024.5 387v2M1023.5 389v2M1022.5 391v3M1021.5 394v2M1020.5 396v1M1050.5 335v1M1049.5 336v2M1048.5 338v2M1047.5 340v2M1046.5 342v2M1045.5 344v2M1044.5 346v2M1043.5 348v2M1042.5 350v2M1041.5 352v2M1040.5 354v2M1039.5 356v2M1038.5 358v2M1037.5 360v2M1036.5 362v2M1035.5 364v1M1065.5 295v1M1064.5 296v2M1063.5 298v3M1062.5 301v3M1061.5 304v2M1060.5 306v3M1059.5 309v3M1058.5 312v2M1057.5 314v3M1056.5 317v3M1055.5 320v2M1054.5 322v3M1053.5 325v3M1052.5 328v2M1051.5 330v3M1050.5 333v2M1075.5 272v1M1074.5 273v2M1073.5 275v3M1072.5 278v2M1071.5 280v2M1070.5 282v2M1069.5 284v3M1068.5 287v2M1067.5 289v2M1066.5 291v2M1065.5 293v2M1082.5 262v2M1081.5 264v1M1080.5 265v1M1079.5 266v2M1078.5 268v1M1077.5 269v1M1076.5 270v2M1082.5 262v1M1083.5 263v2M1084.5 265v1M1085.5 266v2M1086.5 268v1M1087.5 269v1M1088.5 270v2M1089.5 272v1M1090 273.5h1M1091 274.5h2M1093 275.5h3M1096 276.5h3M1099 277.5h3M1102 278.5h2M1104 277.5h3M1107 276.5h4M1111 275.5h3M1114 274.5h4M1118 273.5h3M1121 272.5h1M1122 272.5h2M1124 271.5h1M1125 270.5h1M1126 269.5h1M1127 268.5h2M1129 267.5h1M1130 266.5h1M1131 265.5h1M1132 264.5h2M1134 263.5h1M1135 262.5h2M1137 261.5h3M1140 260.5h3M1143 259.5h3M1146 258.5h3M1149 257.5h1M1150 257.5h3M1153 256.5h3M1156 255.5h4M1160 254.5h3M1163 253.5h4M1167 252.5h3M1170.5 252v1M1171.5 253v1M1172.5 254v2M1173.5 256v1M1174.5 257v1M1175.5 258v2M1176.5 260v1M1177.5 261v1M1178.5 262v3M1179.5 265v2M1180.5 267v3M1181.5 270v2M1182.5 272v2M1183.5 274v3M1184.5 277v2M1185.5 279v1M1185 280.5h2M1187 281.5h1M1188 282.5h1M1189 283.5h2M1191 284.5h1M1192 285.5h1M1193 286.5h2M1195 287.5h1M1196 288.5h1M1197 289.5h2M1199 290.5h1M1200 291.5h2M1202 292.5h2M1204 293.5h2M1206 294.5h2M1208 295.5h2M1210 296.5h2M1212 297.5h4M1216 298.5h3M1219 299.5h3M1222 300.5h1M1223.5 300v2M1224.5 302v1M1225.5 303v1M1226.5 304v2M1227.5 306v1M1228.5 307v1M1229.5 308v2M1230.5 310v2M1231.5 312v2M1232.5 314v3M1233.5 317v3M1234.5 320v2M1235.5 322v3M1236.5 325v3M1237.5 328v2M1238.5 330v2M1239.5 332v2M1240.5 334v2M1241.5 336v1M1242.5 337v2M1243.5 339v2M1244.5 341v2M1245.5 343v1M1246.5 344v2M1247.5 346v1M1248.5 347v3M1249.5 350v1M1250.5 351v2M1251.5 353v2M1252.5 355v2M1253.5 357v2M1254.5 359v1M1255.5 360v2M1256.5 362v2M1257.5 364v2M1258.5 366v1M1259.5 367v2M1260.5 369v1M1260.5 370v1M1261.5 371v2M1262.5 373v2M1263.5 375v2M1264.5 377v2M1265.5 379v2M1266.5 381v2M1267.5 383v2M1268 385.5h1M1269 386.5h2M1271 387.5h2M1273 388.5h1M1274 389.5h2M1276 390.5h2M1278 391.5h2M1280 392.5h1M1281 393.5h2M1283 394.5h2M1285 395.5h5M1290 396.5h8M1298 397.5h7M1305 397.5h1M1306 398.5h2M1308 399.5h3M1311 400.5h2M1313 401.5h2M1315 402.5h3M1318 403.5h2M1320 404.5h2M1322 405.5h1M1323 405.5h2M1325 404.5h3M1328 403.5h3M1331 402.5h4M1335.5 401v1M1336.5 402v1M1337.5 403v1M1338.5 404v1M1339.5 405v1M1340.5 406v1M1341.5 407v1M1342.5 408v1M1343.5 409v1M1344.5 410v1M1345.5 411v1M1346.5 412v1M1347.5 413v1M1348 414.5h15M1363 414.5h1M1364 413.5h2M1366 412.5h2M1368 411.5h2M1370 410.5h2M1372 409.5h2M1374 408.5h1M1375 407.5h2M1377 406.5h2M1379.5 405v2M1380.5 407v2M1381.5 409v3M1382.5 412v3M1383.5 415v2M1384.5 417v3M1385.5 420v2M1386.5 422v3M1387.5 425v2M1388.5 427v2M1388 429.5h2M1390 430.5h1M1391 431.5h1M1392 432.5h1M1393 433.5h1M1394 434.5h1M1395 435.5h1M1396.5 435v3M1397.5 438v3M1398.5 441v4M1399.5 445v3M1400.5 448v3M1401.5 451v3M1402.5 454v4M1403.5 458v2M1403 460.5h1M1404 459.5h3M1407 458.5h3M1410 457.5h3M1413 456.5h3M1416 455.5h2M1418 455.5h1M1419 454.5h1M1420 453.5h2M1422 452.5h1M1423 451.5h1M1424 450.5h2M1426 449.5h1M1427 448.5h8M1435 447.5h2M1437 446.5h2M1439 445.5h2M1441 444.5h2M1443 443.5h2M1445 443.5h1M1446 442.5h4M1450 441.5h4M1454 440.5h5M1459 439.5h4M1463 438.5h3" fill="none" stroke="#87cefa" stroke-width="1" shape-rendering="crispEdges"/>
<path d="M2 294.5h1M3 295.5h3M6 296.5h3M9 297.5h2M11 298.5h3M14 299.5h3M17 300.5h3M20 301.5h2M22 302.5h3M25 303.5h2M27 304.5h3M30 305.5h2M32 306.5h3M35 307.5h2M37 308.5h3M40 309.5h2M42 310.5h3M45 311.5h2M47 312.5h3M50 313.5h4M54 314.5h3M57 315.5h4M61 316.5h4M65 317.5h3M68 318.5h4M72 319.5h4M76 320.5h3M79 321.5h4M83 322.5h6M89 323.5h6M95 324.5h6M101 325.5h6M107 326.5h6M113 327.5h9M122 328.5h9M131 329.5h10M141 330.5h9M150 331.5h6M156 332.5h7M163 333.5h6M169 334.5h6M175 335.5h7M182 336.5h3M185 336.5h40M225 337.5h7M232 338.5h7M239 339.5h7M246 340.5h4M250 340.5h5M255 341.5h9M264 342.5h9M273 343.5h35M308 343.5h10M318 342.5h33M351 341.5h17M368 340.5h8M376 340.5h25M401 340.5h8M409 341.5h16M425 342.5h16M441 343.5h39M480 343.5h50M530 343.5h4M534 342.5h5M539 341.5h6M545 340.5h6M551 339.5h4M555 339.5h1M556 338.5h7M563 337.5h6M569 336.5h7M576 335.5h6M582 334.5h5M587 334.5h2M589 333.5h5M594 332.5h5M599 331.5h5M604 330.5h5M609 329.5h5M614 328.5h1M615 328.5h5M620 327.5h8M628 326.5h7M635 325.5h5M640 325.5h30M670 326.5h10M680 326.5h2M682 325.5h8M690 324.5h8M698 323.5h7M705 323.5h1M706 322.5h19M725 321.5h5M730 321.5h3M733 322.5h8M741 323.5h9M750 324.5h5M755 324.5h6M761 325.5h16M777 326.5h3M780 326.5h27M807 327.5h6M813 327.5h3M816 326.5h17M833 325.5h10M843 325.5h37M880 325.5h14M894 324.5h27M921 324.5h1M922 323.5h3M925 322.5h4M929 321.5h4M933 320.5h3M936 319.5h4M940 318.5h1M941 318.5h3M944 317.5h4M948 316.5h4M952 315.5h5M957 314.5h3M960 314.5h1M961 313.5h4M965 312.5h3M968 311.5h4M972 310.5h4M976 309.5h4M980 308.5h4M984 307.5h1M985 307.5h4M989 306.5h5M994 305.5h5M999 304.5h6M1005 303.5h5M1010 302.5h5M1015 301.5h6M1021 300.5h4M1025 300.5h2M1027 299.5h11M1038 298.5h10M1048 297.5h11M1059 296.5h6M1065 296.5h4M1069 295.5h11M1080 294.5h11M1091 293.5h11M1102 292.5h8M1110 292.5h2M1112 291.5h9M1121 290.5h9M1130 289.5h8M1138 288.5h7M1145 288.5h3M1148 287.5h14M1162 286.5h8M1170 286.5h30M1200 286.5h13M1213 285.5h10M1223 285.5h5M1228 286.5h7M1235 286.5h7M1242 287.5h10M1252 288.5h8M1260 288.5h4M1264 289.5h21M1285 289.5h5M1290 290.5h15M1305 291.5h5M1310 291.5h8M1318 292.5h13M1331 293.5h4M1335 293.5h7M1342 294.5h9M1351 295.5h2M1353 295.5h20M1373 295.5h5M1378 294.5h7M1385 294.5h1M1386 293.5h11M1397 292.5h3M1400 292.5h8M1408 291.5h5M1413 291.5h15M1428 292.5h2M1430 292.5h2M1432 291.5h21M1453 290.5h12" fill="none" stroke="#000" stroke-width="1" shape-rendering="crispEdges"/>
<path d="M2 353.5h3M5 354.5h2M7 355.5h2M9 356.5h2M11 357.5h2M13 358.5h2M15 359.5h2M17 360.5h2M19 361.5h2M21 362.5h2M23 363.5h2M25 364.5h2M27 365.5h2M29 366.5h2M31 367.5h1M32 368.5h2M34 369.5h2M36 370.5h1M37 371.5h2M39 372.5h1M40 373.5h2M42 374.5h2M44 375.5h1M45 376.5h2M47 377.5h1M48 378.5h2M50 379.5h2M52 380.5h3M55 381.5h2M57 382.5h3M60 383.5h2M62 384.5h3M65 385.5h2M67 386.5h3M70 387.5h2M72 388.5h3M75 389.5h2M77 390.5h3M80 391.5h2M82 392.5h3M85 393.5h8M93 394.5h8M101 395.5h9M110 396.5h8M118 397.5h8M126 398.5h4M130 398.5h6M136 399.5h12M148 400.5h12M160 401.5h7M167 402.5h7M174 403.5h7M181 404.5h7M188 404.5h20M208 403.5h8M216 402.5h7M223 401.5h8M231 400.5h4M235 400.5h14M249 401.5h26M275 402.5h1M276 401.5h8M284 400.5h9M293 399.5h9M302 398.5h9M311 397.5h8M319 396.5h6M325 396.5h2M327 395.5h5M332 394.5h6M338 393.5h5M343 392.5h5M348 391.5h6M354 390.5h1M355 390.5h3M358 389.5h4M362 388.5h4M366 387.5h4M370 386.5h4M374 385.5h1M375 385.5h3M378 384.5h3M381 383.5h4M385 382.5h4M389 381.5h3M392 380.5h3M395 380.5h16M411 381.5h15M426 381.5h25M451 381.5h15M466 380.5h14M480 380.5h4M484 379.5h8M492 378.5h8M500 377.5h5M505 377.5h2M507 376.5h5M512 375.5h5M517 374.5h5M522 373.5h5M527 372.5h5M532 371.5h5M537 370.5h3M540 370.5h1M541 369.5h3M544 368.5h3M547 367.5h2M549 366.5h3M552 365.5h2M554 364.5h1M555 364.5h3M558 363.5h3M561 362.5h3M564 361.5h3M567 360.5h3M570 359.5h4M574 358.5h3M577 357.5h3M580 356.5h3M583 355.5h2M585 355.5h1M586 354.5h3M589 353.5h2M591 352.5h3M594 351.5h2M596 350.5h3M599 349.5h2M601 348.5h3M604 347.5h2M606 346.5h3M609 345.5h1M610 345.5h1M611 344.5h3M614 343.5h3M617 342.5h2M619 341.5h3M622 340.5h3M625 339.5h2M627 338.5h3M630 337.5h3M633 336.5h2M635 335.5h3M638 334.5h2M640 334.5h30M670 334.5h10M680 334.5h4M684 333.5h5M689 332.5h5M694 331.5h1M695 331.5h4M699 330.5h5M704 329.5h5M709 328.5h5M714 327.5h5M719 326.5h1M720 326.5h15M735 326.5h2M737 327.5h6M743 328.5h6M749 329.5h1M750 329.5h9M759 330.5h10M769 331.5h10M779 332.5h1M780 332.5h18M798 333.5h15M813 333.5h17M830 333.5h1M831 332.5h7M838 331.5h5M843 331.5h9M852 330.5h28M880 330.5h8M888 329.5h16M904 328.5h17M921 327.5h2M923 326.5h2M925 325.5h1M926 324.5h2M928 323.5h2M930 322.5h2M932 321.5h1M933 320.5h2M935 319.5h2M937 318.5h2M939 317.5h1M940 316.5h1M941 316.5h2M943 315.5h2M945 314.5h2M947 313.5h2M949 312.5h2M951 311.5h2M953 310.5h3M956 309.5h2M958 308.5h2M960 307.5h2M962 306.5h2M964 305.5h2M966 304.5h2M968 303.5h1M969 302.5h2M971 301.5h2M973 300.5h2M975 299.5h2M977 298.5h2M979 297.5h2M981 296.5h2M983 295.5h1M984 294.5h1M985 294.5h2M987 293.5h3M990 292.5h3M993 291.5h3M996 290.5h3M999 289.5h3M1002 288.5h3M1005 287.5h3M1008 286.5h2M1010 286.5h2M1012 285.5h4M1016 284.5h5M1021 283.5h4M1025 282.5h4M1029 281.5h5M1034 280.5h1M1035 280.5h4M1039 279.5h6M1045 278.5h6M1051 277.5h6M1057 276.5h3M1060 276.5h3M1063 275.5h8M1071 274.5h7M1078 273.5h7M1085 273.5h1M1086 272.5h12M1098 271.5h11M1109 270.5h1M1110 270.5h5M1115 269.5h6M1121 268.5h5M1126 267.5h6M1132 266.5h3M1135 266.5h3M1138 265.5h8M1146 264.5h8M1154 263.5h6M1160 263.5h2M1162 262.5h13M1175 262.5h9M1184 263.5h1M1185 263.5h25M1210 263.5h8M1218 264.5h12M1230 264.5h3M1233 265.5h6M1239 266.5h5M1244 267.5h4M1248 267.5h2M1250 268.5h4M1254 269.5h5M1259 270.5h5M1264 271.5h1M1265 271.5h6M1271 272.5h9M1280 273.5h11M1291 274.5h7M1298 274.5h2M1300 275.5h6M1306 276.5h6M1312 277.5h5M1317 278.5h1M1318 278.5h3M1321 279.5h4M1325 280.5h4M1329 281.5h4M1333 282.5h4M1337 283.5h5M1342 284.5h5M1347 285.5h1M1348 285.5h4M1352 286.5h5M1357 287.5h5M1362 288.5h1M1363 288.5h10M1373 288.5h5M1378 287.5h5M1383 286.5h2M1385 286.5h2M1387 285.5h4M1391 284.5h3M1394 283.5h4M1398 282.5h2M1400 282.5h3M1403 281.5h8M1411 280.5h2M1413 280.5h7M1420 281.5h8M1428 281.5h7M1435 280.5h5M1440 280.5h25" fill="none" stroke="#00ff00" stroke-width="1" shape-rendering="crispEdges"/>
<path d="M2 460.5h2M4 461.5h2M6 462.5h2M8 463.5h2M10 464.5h2M12 465.5h2M14 466.5h2M16 467.5h2M18 468.5h2M20 469.5h2M22 470.5h2M24 471.5h2M26 472.5h1M27 473.5h2M29 474.5h2M31 475.5h1M32 476.5h2M34 477.5h1M35 478.5h2M37 479.5h1M38 480.5h2M40 481.5h1M41 482.5h1M42 483.5h3M45 484.5h2M47 485.5h2M49 486.5h2M51 487.5h2M53 488.5h2M55 489.5h2M57 490.5h2M59 491.5h2M61 492.5h2M63 493.5h2M65 494.5h4M69 495.5h5M74 496.5h4M78 497.5h4M82 498.5h1M83 497.5h2M85 496.5h3M88 495.5h2M90 494.5h3M93 493.5h1M94 493.5h4M98 492.5h7M105 491.5h7M112 490.5h7M119 489.5h3M122 489.5h2M124 488.5h3M127 487.5h3M130 486.5h2M132 485.5h3M135 484.5h5M140 483.5h5M145 482.5h5M150 481.5h5M155 480.5h5M160 479.5h3M163 479.5h5M168 478.5h10M178 477.5h10M188 476.5h2M190 475.5h1M191 474.5h2M193 473.5h1M194 472.5h2M196 471.5h1M197 470.5h2M199 469.5h1M200 468.5h2M202 467.5h2M204 466.5h2M206 465.5h1M207 464.5h2M209 463.5h2M211 462.5h2M213 461.5h2M215 460.5h2M217 459.5h2M219 458.5h2M221 457.5h1M222 456.5h2M224 455.5h2M226 454.5h2M228 454.5h7M235 454.5h1M236 453.5h3M239 452.5h4M243 451.5h4M247 450.5h3M250 450.5h1M251 449.5h7M258 448.5h7M265 447.5h7M272 446.5h3M275 446.5h2M277 445.5h3M280 444.5h3M283 443.5h3M286 442.5h3M289 441.5h3M292 440.5h3M295 439.5h3M298 438.5h2M300 438.5h1M301 437.5h1M302 436.5h2M304 435.5h2M306 434.5h1M307 433.5h2M309 432.5h2M311 431.5h1M312 430.5h2M314 429.5h2M316 428.5h1M317 427.5h2M319 426.5h2M321 425.5h1M322 424.5h2M324 423.5h1M325 423.5h1M326 422.5h2M328 421.5h1M329 420.5h2M331 419.5h2M333 418.5h2M335 417.5h2M337 416.5h2M339 415.5h2M341 414.5h2M343 413.5h1M344 412.5h2M346 411.5h2M348 410.5h2M350 409.5h2M352 408.5h2M354 407.5h1M355 407.5h1M356 406.5h1M357 405.5h2M359 404.5h2M361 403.5h2M363 402.5h2M365 401.5h1M366 400.5h2M368 399.5h2M370 398.5h2M372 397.5h1M373 396.5h2M375 395.5h2M377 394.5h3M380 393.5h2M382 392.5h3M385 391.5h2M387 390.5h3M390 389.5h2M392 388.5h3M395 387.5h6M401 388.5h10M411 389.5h5M416 389.5h30M446 388.5h5M451 387.5h6M457 386.5h5M462 385.5h6M468 384.5h5M473 383.5h3M476 383.5h14M490 383.5h3M493 382.5h3M496 381.5h4M500 380.5h3M503 379.5h4M507 378.5h3M510 377.5h3M513 376.5h3M516 375.5h3M519 374.5h3M522 373.5h3M525 372.5h3M528 371.5h3M531 370.5h3M534 369.5h3M537 368.5h3M540 367.5h1M541 366.5h1M542 365.5h2M544 364.5h1M545 363.5h1M546 362.5h1M547 361.5h1M548 360.5h2M550 359.5h1M551 358.5h1M552 357.5h1M553 356.5h1M554 355.5h1M555 355.5h1M556 354.5h1M557 353.5h2M559 352.5h1M560 351.5h2M562 350.5h1M563 349.5h2M565 348.5h1M566 347.5h2M568 346.5h1M569 345.5h2M571 344.5h1M572 343.5h2M574 342.5h1M575 341.5h2M577 340.5h1M578 339.5h2M580 338.5h1M581 337.5h2M583 336.5h1M584 335.5h1M585 335.5h1M586 334.5h1M587 333.5h1M588 332.5h2M590 331.5h1M591 330.5h1M592 329.5h2M594 328.5h1M595 327.5h1M596 326.5h2M598 325.5h1M599 324.5h1M600 323.5h2M602 322.5h1M603 321.5h1M604 320.5h2M606 319.5h1M607 318.5h1M608 317.5h2M610 316.5h1M611 315.5h2M613 314.5h2M615 313.5h2M617 312.5h2M619 311.5h2M621 310.5h2M623 309.5h2M625 308.5h2M627 307.5h2M629 306.5h2M631 305.5h2M633 304.5h2M635 304.5h1M636 303.5h9M645 303.5h4M649 304.5h8M657 305.5h3M660 305.5h2M662 306.5h3M665 307.5h4M669 308.5h3M672 309.5h3M675 309.5h10M685 308.5h2M687 307.5h2M689 306.5h2M691 305.5h2M693 304.5h2M695 303.5h5M700 302.5h4M704 301.5h4M708 300.5h5M713 299.5h4M717 298.5h4M721 297.5h4M725 297.5h4M729 298.5h4M733 299.5h3M736 300.5h3M739 301.5h3M742 302.5h3M745 303.5h3M748 304.5h3M751 305.5h3M754 306.5h1M755 306.5h2M757 307.5h3M760 308.5h2M762 309.5h3M765 310.5h3M768 311.5h3M771 312.5h3M774 313.5h3M777 314.5h2M779 315.5h1M780 315.5h4M784 316.5h5M789 317.5h5M794 318.5h5M799 319.5h5M804 320.5h1M805 320.5h4M809 321.5h6M815 322.5h6M821 323.5h4M825 323.5h3M828 322.5h3M831 321.5h3M834 320.5h3M837 319.5h3M840 318.5h6M846 319.5h18M864 320.5h6M870 320.5h35M905 320.5h3M908 319.5h4M912 318.5h4M916 317.5h4M920 316.5h1M921 316.5h1M922 315.5h1M923 314.5h1M924 313.5h1M925 312.5h1M926 311.5h2M928 310.5h1M929 309.5h1M930 308.5h1M931 307.5h1M932 306.5h1M933 305.5h1M934 304.5h2M936 303.5h1M937 302.5h1M956.5 280v1M955.5 281v1M954.5 282v1M953.5 283v1M952.5 284v1M951.5 285v2M950.5 287v1M949.5 288v1M948.5 289v1M947.5 290v1M946.5 291v2M945.5 293v1M944.5 294v1M943.5 295v1M942.5 296v1M941.5 297v1M940.5 298v2M939.5 300v1M956 280.5h1M957 279.5h1M958 278.5h1M959 277.5h1M960 276.5h1M961 275.5h1M962 274.5h2M964 273.5h1M965 272.5h1M966 271.5h1M967 270.5h1M968 269.5h1M969 268.5h2M971 267.5h1M972 266.5h1M973 265.5h2M975 264.5h1M976 263.5h2M978 262.5h1M979 261.5h2M981 260.5h1M982 259.5h2M984 258.5h2M986 257.5h1M987 256.5h1M988 256.5h1M989 255.5h2M991 254.5h3M994 253.5h2M996 252.5h3M999 251.5h2M1001 250.5h3M1004 249.5h3M1007 248.5h4M1011 247.5h4M1015 246.5h4M1019 245.5h1M1020 245.5h2M1022 244.5h3M1025 243.5h2M1027 242.5h3M1030 241.5h3M1033 240.5h2M1035 239.5h7M1042 238.5h7M1049 237.5h6M1055 236.5h5M1060 236.5h16M1076 236.5h1M1077 235.5h2M1079 234.5h3M1082 233.5h2M1084 233.5h9M1093 234.5h2M1095 233.5h14M1109 232.5h7M1116 232.5h4M1120 231.5h8M1128 230.5h8M1136 229.5h8M1144 228.5h4M1148 228.5h8M1156 227.5h14M1170 227.5h6M1176 228.5h2M1178 228.5h2M1180 229.5h3M1183 230.5h3M1186 231.5h2M1188 231.5h1M1189 232.5h5M1194 233.5h5M1199 234.5h5M1204 235.5h5M1209 236.5h3M1212 236.5h9M1221 237.5h5M1226 237.5h2M1228 238.5h2M1230 239.5h2M1232 240.5h2M1234 241.5h2M1236 242.5h2M1238 243.5h2M1240 244.5h2M1242 245.5h2M1244 246.5h2M1246 247.5h2M1248 248.5h2M1250 249.5h2M1252 250.5h2M1254 251.5h2M1256 252.5h2M1258 253.5h2M1260 254.5h2M1262 255.5h1M1263 256.5h2M1265 257.5h2M1267 258.5h1M1268 258.5h1M1269 259.5h5M1274 260.5h5M1279 261.5h1M1280 261.5h3M1283 262.5h3M1286 263.5h4M1290 264.5h3M1293 265.5h4M1297 266.5h1M1298 266.5h2M1300 267.5h2M1302 268.5h3M1305 269.5h3M1308 270.5h2M1310 271.5h3M1313 272.5h3M1316 273.5h2M1318 274.5h2M1320 275.5h2M1322 276.5h2M1324 277.5h2M1326 278.5h2M1328 279.5h2M1330 280.5h2M1332 281.5h1M1333 281.5h1M1334 282.5h2M1336 283.5h2M1338 284.5h2M1340 285.5h2M1342 286.5h2M1344 287.5h2M1346 288.5h2M1348 288.5h1M1349 289.5h2M1351 290.5h3M1354 291.5h2M1356 292.5h3M1359 293.5h2M1361 294.5h2M1363 294.5h3M1366 295.5h7M1373 295.5h2M1375 294.5h2M1377 293.5h3M1380 292.5h2M1382 291.5h1M1383 291.5h1M1384 290.5h2M1386 289.5h2M1388 288.5h2M1390 287.5h2M1392 286.5h2M1394 285.5h1M1395 285.5h1M1396 284.5h2M1398 283.5h2M1400 282.5h1M1401 281.5h2M1403 280.5h1M1404 280.5h4M1408 279.5h5M1413 279.5h3M1416 280.5h7M1423 280.5h4M1427 279.5h6M1433 278.5h2M1435 278.5h6M1441 279.5h9M1450 279.5h15" fill="none" stroke="#ff0000" stroke-width="1" shape-rendering="crispEdges"/>
<path d="M2 551.5h3M5 552.5h3M8 553.5h3M11 554.5h6M17 555.5h2M19 555.5h2M21 554.5h4M25 554.5h2M27 555.5h2M29 556.5h1M30 557.5h2M32 558.5h1M33 559.5h1M34 560.5h2M36 561.5h1M37 562.5h1M38 563.5h1M39 564.5h1M40 564.5h1M41 565.5h2M43 566.5h2M45 567.5h2M47 568.5h1M48 568.5h3M51 569.5h5M56 570.5h10M66 570.5h2M68 569.5h3M71 568.5h3M74 567.5h3M77 566.5h3M80 565.5h2M94.5 545v2M93.5 547v2M92.5 549v1M91.5 550v2M90.5 552v1M89.5 553v2M88.5 555v2M87.5 557v1M86.5 558v2M85.5 560v1M84.5 561v2M83.5 563v2M95 544.5h1M96 543.5h1M97 542.5h1M98 541.5h1M99 540.5h1M100 539.5h1M101 538.5h1M102 537.5h1M103 536.5h1M104 535.5h1M105 534.5h1M106 533.5h1M107 532.5h1M108 531.5h2M110 530.5h1M111 529.5h1M112 528.5h1M113 527.5h1M114 526.5h1M115 525.5h1M116 524.5h1M117 523.5h1M118 522.5h1M119 521.5h1M120 520.5h1M121 519.5h1M122 518.5h1M123 517.5h2M125 516.5h1M126 515.5h1M127 514.5h1M128 513.5h1M129 512.5h1M130 511.5h2M132 510.5h1M133 509.5h1M134 508.5h1M135 507.5h1M136 506.5h1M137 505.5h2M139 504.5h1M140 503.5h1M141 502.5h1M142 501.5h2M144 500.5h1M145 499.5h2M147 498.5h1M148 497.5h1M149 496.5h2M151 495.5h1M152 494.5h2M154 493.5h1M155 492.5h1M156 491.5h2M158 490.5h1M159 489.5h2M161 488.5h1M162 487.5h2M164 486.5h3M167 485.5h2M169 484.5h3M172 483.5h2M174 482.5h1M175 482.5h4M179 481.5h6M185 480.5h3M199.5 466v2M198.5 468v1M197.5 469v1M196.5 470v1M195.5 471v1M194.5 472v1M193.5 473v2M192.5 475v1M191.5 476v1M190.5 477v1M189.5 478v1M188.5 479v1M220.5 441v1M219.5 442v1M218.5 443v1M217.5 444v1M216.5 445v2M215.5 447v1M214.5 448v1M213.5 449v1M212.5 450v2M211.5 452v1M210.5 453v1M209.5 454v1M208.5 455v2M207.5 457v1M206.5 458v1M205.5 459v1M204.5 460v2M203.5 462v1M202.5 463v1M201.5 464v1M200.5 465v1M225.5 431v1M224.5 432v2M223.5 434v2M222.5 436v2M221.5 438v2M220.5 440v1M225 431.5h2M227 432.5h3M230 433.5h3M233 434.5h2M235 435.5h1M236 434.5h2M238 433.5h2M240 432.5h2M242 431.5h3M245 430.5h2M247 429.5h2M249 428.5h1M250 428.5h6M256 427.5h9M265 427.5h1M266 426.5h1M267 425.5h2M269 424.5h2M271 423.5h1M272 422.5h2M274 421.5h2M276 420.5h1M277 419.5h2M279 418.5h2M281 417.5h1M282 416.5h1M283 416.5h1M284 415.5h1M285 414.5h2M287 413.5h1M288 412.5h2M290 411.5h1M291 410.5h2M293 409.5h1M294 408.5h1M295 407.5h2M297 406.5h1M298 405.5h2M300 404.5h1M301 403.5h2M303 402.5h2M305 401.5h1M306 400.5h2M308 399.5h2M310 398.5h1M311 397.5h2M313 396.5h2M315 395.5h1M316 394.5h2M318 393.5h2M320 392.5h1M321 391.5h2M323 390.5h2M325 389.5h1M326 388.5h3M329 387.5h3M332 386.5h2M334 385.5h1M335 385.5h1M336 384.5h1M337 383.5h1M338 382.5h1M339 381.5h1M340 380.5h1M341 379.5h1M342 378.5h1M343 377.5h1M344 376.5h2M346 375.5h1M347 374.5h1M348 373.5h1M349 372.5h1M365.5 355v1M364.5 356v1M363.5 357v1M362.5 358v1M361.5 359v1M360.5 360v1M359.5 361v1M358.5 362v1M357.5 363v1M356.5 364v2M355.5 366v1M354.5 367v1M353.5 368v1M352.5 369v1M351.5 370v1M365 355.5h1M366 354.5h2M368 353.5h1M369 352.5h1M370 351.5h1M371 350.5h2M373 349.5h1M374 348.5h1M375 347.5h1M376 346.5h2M378 345.5h1M379 344.5h1M380 343.5h10M390 343.5h1M391 342.5h2M393 341.5h2M395 340.5h2M397 339.5h1M398 339.5h1M399 340.5h1M400 341.5h2M402 342.5h1M403 343.5h1M404 344.5h2M406 345.5h1M407 346.5h1M408 347.5h1M409 348.5h1M410 349.5h3M413 350.5h1M414 351.5h2M416 352.5h2M418 353.5h2M420 354.5h2M422 355.5h2M424 356.5h1M425 357.5h2M427 358.5h2M429 359.5h2M431 360.5h2M433 361.5h1M434 362.5h1M435 362.5h2M437 363.5h6M443 364.5h5M448 365.5h3M451 365.5h2M453 364.5h4M457 363.5h4M461 362.5h2M463 362.5h2M465 361.5h4M469 360.5h4M473 359.5h3M476 359.5h2M478 360.5h2M480 360.5h3M483 359.5h7M490 358.5h6M496 357.5h7M503 356.5h2M505 356.5h3M508 355.5h3M511 354.5h4M515 353.5h3M518 352.5h4M522 351.5h3M525 350.5h4M529 349.5h1M530 349.5h1M531 348.5h1M532 347.5h1M533 346.5h2M535 345.5h1M536 344.5h1M537 343.5h1M538 342.5h2M555.5 316v1M554.5 317v1M553.5 318v2M552.5 320v2M551.5 322v1M550.5 323v2M549.5 325v2M548.5 327v1M547.5 328v2M546.5 330v2M545.5 332v1M544.5 333v2M543.5 335v2M542.5 337v1M541.5 338v2M540.5 340v1M585.5 286v1M584.5 287v1M583.5 288v1M582.5 289v1M581.5 290v1M580.5 291v1M579.5 292v1M578.5 293v1M577.5 294v1M576.5 295v1M575.5 296v1M574.5 297v1M573.5 298v1M572.5 299v1M571.5 300v1M570.5 301v1M569.5 302v1M568.5 303v1M567.5 304v1M566.5 305v1M565.5 306v1M564.5 307v1M563.5 308v1M562.5 309v1M561.5 310v1M560.5 311v1M559.5 312v1M558.5 313v1M557.5 314v1M556.5 315v1M609.5 259v1M608.5 260v1M607.5 261v1M606.5 262v1M605.5 263v2M604.5 265v1M603.5 266v1M602.5 267v1M601.5 268v1M600.5 269v1M599.5 270v1M598.5 271v1M597.5 272v1M596.5 273v1M595.5 274v2M594.5 276v1M593.5 277v1M592.5 278v1M591.5 279v1M590.5 280v1M589.5 281v1M588.5 282v1M587.5 283v1M586.5 284v1M585.5 285v1M610 258.5h2M612 257.5h1M613 256.5h2M615 255.5h2M617 254.5h1M618 253.5h2M620 252.5h2M622 251.5h1M623 250.5h2M625 249.5h2M627 248.5h1M628 247.5h2M630 246.5h2M632 245.5h1M633 244.5h2M635 244.5h2M637 245.5h2M639 246.5h2M641 247.5h2M643 248.5h2M645.5 249v1M646.5 250v1M647.5 251v1M648.5 252v1M649.5 253v1M650.5 254v1M651.5 255v1M652.5 256v1M653.5 257v1M654.5 258v1M655.5 259v1M656.5 260v1M657.5 261v1M658.5 262v1M659.5 263v1M660.5 264v1M661.5 265v2M662.5 267v1M663.5 268v1M664.5 269v1M665.5 270v1M666.5 271v1M667.5 272v1M668.5 273v1M669.5 274v1M670.5 275v1M671.5 276v1M672.5 277v1M673.5 278v1M674.5 279v1M675 280.5h3M678 281.5h3M681 282.5h3M684 282.5h1M685 281.5h1M686 280.5h2M688 279.5h1M689 278.5h1M690 277.5h2M692 276.5h1M693 275.5h1M694 274.5h1M695 273.5h3M698 272.5h3M701 271.5h3M704 270.5h3M707 269.5h3M710 268.5h2M712 267.5h1M713 267.5h11M724 267.5h1M725 268.5h2M727 269.5h1M728 270.5h1M729 271.5h1M730 272.5h2M732 273.5h1M733.5 274v1M734.5 275v1M735.5 276v2M736.5 278v1M737.5 279v1M738.5 280v1M739.5 281v2M740.5 283v1M741.5 284v1M742.5 285v1M743.5 286v1M744.5 287v2M745.5 289v1M746.5 290v1M747.5 291v1M748.5 292v2M749.5 294v1M750.5 295v1M751.5 296v1M752.5 297v1M753.5 298v2M754.5 300v1M755 301.5h1M756 302.5h2M758 303.5h1M759 304.5h1M760 305.5h2M762 306.5h1M763 307.5h2M765 308.5h1M766 309.5h2M768 310.5h1M769 311.5h1M770 312.5h2M772 313.5h1M773 314.5h2M775 315.5h1M776 316.5h1M777 317.5h2M779 318.5h1M780 319.5h2M782 320.5h3M785 321.5h2M787 322.5h2M789 323.5h2M791 324.5h3M794 325.5h2M796 326.5h2M798 327.5h2M800 328.5h3M803 329.5h2M805 330.5h4M809 331.5h6M815 332.5h2M817 331.5h7M824 330.5h4M828 330.5h1M829 329.5h1M830 328.5h1M831 327.5h1M832 326.5h1M833 325.5h1M834 324.5h1M835 323.5h1M836 322.5h2M838 321.5h1M839 320.5h1M840 319.5h7M847 320.5h3M850 320.5h7M857 321.5h12M869 322.5h1M870 322.5h15M885 321.5h20M905 321.5h3M908 320.5h3M911 319.5h2M913 318.5h3M916 317.5h3M919 316.5h3M922 315.5h1M933.5 296v1M932.5 297v2M931.5 299v2M930.5 301v2M929.5 303v2M928.5 305v2M927.5 307v2M926.5 309v2M925.5 311v1M924.5 312v2M923.5 314v1M943.5 266v2M942.5 268v3M941.5 271v3M940.5 274v3M939.5 277v3M938.5 280v3M937.5 283v3M936.5 286v3M935.5 289v3M934.5 292v3M933.5 295v1M959.5 236v2M958.5 238v2M957.5 240v2M956.5 242v1M955.5 243v2M954.5 245v2M953.5 247v2M952.5 249v2M951.5 251v2M950.5 253v1M949.5 254v2M948.5 256v2M947.5 258v2M946.5 260v2M945.5 262v2M944.5 264v1M943.5 265v1M972.5 214v1M971.5 215v2M970.5 217v1M969.5 218v2M968.5 220v2M967.5 222v2M966.5 224v1M965.5 225v2M964.5 227v2M963.5 229v2M962.5 231v1M961.5 232v2M960.5 234v2M972 214.5h1M973 213.5h1M974 212.5h1M975 211.5h1M976 210.5h1M977 209.5h1M978 208.5h2M980 207.5h1M981 206.5h1M982 205.5h1M983 204.5h1M984 203.5h1M985 202.5h2M987 201.5h1M988 200.5h1M989 199.5h1M990 198.5h3M993 197.5h3M996 196.5h3M999 195.5h3M1002 194.5h3M1005 193.5h3M1008 192.5h2M1010 192.5h3M1013 191.5h7M1020 190.5h7M1027 190.5h6M1033 191.5h6M1039 192.5h6M1045 193.5h6M1051 194.5h5M1056 195.5h6M1062 196.5h3M1065 196.5h1M1066 197.5h3M1069 198.5h3M1072 199.5h2M1074 200.5h1M1075 200.5h2M1077 199.5h5M1082 199.5h3M1085 200.5h2M1087 201.5h2M1089 202.5h2M1091 203.5h2M1093 204.5h2M1095 205.5h2M1097 206.5h4M1101 207.5h3M1104 208.5h3M1107 209.5h25M1132 210.5h1M1133 209.5h5M1138 208.5h5M1143 207.5h5M1148 207.5h8M1156 208.5h8M1164 209.5h4M1168 209.5h1M1169 210.5h2M1171 211.5h2M1173 212.5h1M1174 213.5h2M1176 214.5h2M1178 215.5h2M1180 216.5h2M1182 217.5h1M1183 218.5h2M1185 219.5h2M1187 220.5h2M1189 221.5h2M1191 222.5h1M1192 223.5h2M1194 224.5h2M1196 225.5h2M1198 226.5h1M1199 227.5h1M1200 227.5h1M1201 228.5h3M1204 229.5h2M1206 230.5h2M1208 231.5h3M1211 232.5h2M1213 233.5h2M1215 234.5h3M1218 235.5h2M1220 236.5h2M1222 237.5h2M1224 238.5h2M1226 239.5h2M1228 240.5h2M1230.5 241v1M1231.5 242v1M1232.5 243v2M1233.5 245v1M1234.5 246v1M1235.5 247v1M1236.5 248v2M1237.5 250v1M1238.5 251v1M1239.5 252v2M1240.5 254v1M1241.5 255v1M1242.5 256v1M1243.5 257v2M1244.5 259v1M1245.5 260v1M1246.5 261v1M1247.5 262v1M1248.5 263v1M1249.5 264v1M1250.5 265v1M1251.5 266v1M1252.5 267v2M1253.5 269v1M1254.5 270v1M1255 271.5h1M1256 272.5h1M1257 273.5h1M1258 274.5h2M1260 275.5h1M1261 276.5h1M1262 277.5h1M1263 278.5h1M1264 279.5h1M1265 280.5h1M1266 281.5h1M1267 282.5h1M1268 282.5h1M1269 283.5h4M1273 284.5h4M1277 285.5h5M1282 286.5h1M1283 286.5h2M1285 287.5h2M1287 288.5h3M1290 289.5h2M1292 290.5h3M1295 291.5h2M1297 292.5h2M1299 293.5h2M1301 294.5h2M1303 295.5h2M1305 296.5h2M1307 297.5h2M1309 298.5h1M1310 299.5h2M1312 300.5h1M1313 301.5h2M1315 302.5h1M1316 303.5h1M1317 304.5h2M1319 305.5h1M1320 306.5h1M1321 307.5h2M1323 308.5h1M1324 309.5h1M1325 310.5h2M1327 311.5h1M1328 312.5h1M1329 313.5h2M1331 314.5h1M1332 315.5h1M1333 316.5h2M1335 317.5h1M1336 318.5h1M1337 319.5h2M1339 320.5h1M1340 321.5h2M1342 322.5h2M1344 323.5h1M1345 324.5h2M1347 325.5h2M1349 326.5h2M1351 327.5h2M1353 328.5h3M1356 329.5h4M1360 330.5h4M1364 331.5h1M1365 331.5h3M1368 330.5h4M1372 329.5h3M1385.5 315v1M1384.5 316v2M1383.5 318v1M1382.5 319v2M1381.5 321v1M1380.5 322v1M1379.5 323v2M1378.5 325v1M1377.5 326v1M1376.5 327v2M1395.5 300v2M1394.5 302v1M1393.5 303v2M1392.5 305v1M1391.5 306v2M1390.5 308v1M1389.5 309v2M1388.5 311v1M1387.5 312v2M1386.5 314v1M1403.5 286v1M1402.5 287v2M1401.5 289v2M1400.5 291v2M1399.5 293v1M1398.5 294v2M1397.5 296v2M1396.5 298v2M1403 286.5h1M1404 285.5h2M1406 284.5h1M1407 283.5h2M1409 282.5h1M1410 281.5h1M1411 282.5h2M1413 283.5h2M1415 284.5h2M1417 285.5h2M1419 284.5h3M1422 283.5h2M1424 282.5h1M1425 282.5h7M1432 281.5h3M1435 281.5h6M1441 280.5h6M1447 280.5h3M1450 281.5h4M1454 282.5h4M1458 283.5h2M1460 283.5h4M1464 282.5h1" fill="none" stroke="#ffee00" stroke-width="1" shape-rendering="crispEdges"/>
<g stroke="#000" stroke-width="1" stroke-dasharray="9 6 3 6" shape-rendering="crispEdges">
<line x1="3" y1="69.5" x2="1869" y2="69.5"/>
<line x1="3" y1="82.0" x2="1869" y2="82.0"/>
<line x1="3" y1="157.5" x2="1869" y2="157.5"/>
<line x1="3" y1="194.5" x2="1869" y2="194.5"/>
<line x1="3" y1="282.5" x2="1869" y2="282.5"/>
<line x1="3" y1="335.5" x2="1869" y2="335.5"/>
<line x1="3" y1="366.0" x2="1869" y2="366.0"/>
<line x1="3" y1="440.5" x2="1869" y2="440.5"/>
<line x1="3" y1="503.5" x2="1869" y2="503.5"/>
<line x1="3" y1="571.5" x2="1869" y2="571.5"/>
<line x1="3" y1="652.5" x2="1869" y2="652.5"/>
</g>
<g shape-rendering="crispEdges">
<rect x="3" y="543" width="1" height="86" fill="#00b3dd"/>
<rect x="1" y="585" width="5" height="34" fill="#00b3dd"/>
<rect x="2" y="586" width="3" height="32" fill="#fff"/>
<rect x="11" y="572" width="1" height="25" fill="#00b3dd"/>
<rect x="9" y="576" width="5" height="11" fill="#00b3dd"/>
<rect x="10" y="577" width="3" height="9" fill="#fff"/>
<rect x="19" y="560" width="1" height="20" fill="#00b3dd"/>
<rect x="17" y="568" width="5" height="8" fill="#00b3dd"/>
<rect x="18" y="569" width="3" height="6" fill="#fff"/>
<rect x="27" y="538" width="1" height="43" fill="#00b3dd"/>
<rect x="25" y="541" width="5" height="28" fill="#00b3dd"/>
<rect x="26" y="542" width="3" height="26" fill="#fff"/>
<rect x="35" y="504" width="1" height="128" fill="#404040"/>
<rect x="33" y="540" width="5" height="84" fill="#404040"/>
<rect x="43" y="571" width="1" height="82" fill="#404040"/>
<rect x="41" y="623" width="5" height="9" fill="#404040"/>
<rect x="51" y="591" width="1" height="62" fill="#00b3dd"/>
<rect x="49" y="598" width="5" height="33" fill="#00b3dd"/>
<rect x="50" y="599" width="3" height="31" fill="#fff"/>
<rect x="59" y="573" width="1" height="26" fill="#00b3dd"/>
<rect x="57" y="584" width="5" height="15" fill="#00b3dd"/>
<rect x="58" y="585" width="3" height="13" fill="#fff"/>
<rect x="67" y="546" width="1" height="21" fill="#404040"/>
<rect x="65" y="558" width="5" height="5" fill="#404040"/>
<rect x="75" y="545" width="1" height="27" fill="#00b3dd"/>
<rect x="73" y="551" width="5" height="12" fill="#00b3dd"/>
<rect x="74" y="552" width="3" height="10" fill="#fff"/>
<rect x="83" y="529" width="1" height="29" fill="#00b3dd"/>
<rect x="81" y="535" width="5" height="18" fill="#00b3dd"/>
<rect x="82" y="536" width="3" height="16" fill="#fff"/>
<rect x="91" y="367" width="1" height="192" fill="#00b3dd"/>
<rect x="89" y="384" width="5" height="152" fill="#00b3dd"/>
<rect x="90" y="385" width="3" height="150" fill="#fff"/>
<rect x="99" y="346" width="1" height="119" fill="#404040"/>
<rect x="97" y="384" width="5" height="77" fill="#404040"/>
<rect x="107" y="427" width="1" height="44" fill="#404040"/>
<rect x="105" y="458" width="5" height="11" fill="#404040"/>
<rect x="115" y="452" width="1" height="25" fill="#00b3dd"/>
<rect x="113" y="452" width="5" height="17" fill="#00b3dd"/>
<rect x="114" y="453" width="3" height="15" fill="#fff"/>
<rect x="123" y="407" width="1" height="58" fill="#404040"/>
<rect x="121" y="452" width="5" height="5" fill="#404040"/>
<rect x="131" y="426" width="1" height="35" fill="#00b3dd"/>
<rect x="129" y="434" width="5" height="23" fill="#00b3dd"/>
<rect x="130" y="435" width="3" height="21" fill="#fff"/>
<rect x="139" y="399" width="1" height="68" fill="#00b3dd"/>
<rect x="137" y="431" width="5" height="7" fill="#00b3dd"/>
<rect x="138" y="432" width="3" height="5" fill="#fff"/>
<rect x="147" y="380" width="1" height="85" fill="#404040"/>
<rect x="145" y="431" width="5" height="30" fill="#404040"/>
<rect x="155" y="432" width="1" height="50" fill="#00b3dd"/>
<rect x="153" y="432" width="5" height="27" fill="#00b3dd"/>
<rect x="154" y="433" width="3" height="25" fill="#fff"/>
<rect x="163" y="423" width="1" height="30" fill="#00b3dd"/>
<rect x="161" y="428" width="5" height="5" fill="#00b3dd"/>
<rect x="162" y="429" width="3" height="3" fill="#fff"/>
<rect x="171" y="418" width="1" height="33" fill="#404040"/>
<rect x="169" y="427" width="5" height="16" fill="#404040"/>
<rect x="179" y="443" width="1" height="46" fill="#404040"/>
<rect x="177" y="443" width="5" height="18" fill="#404040"/>
<rect x="187" y="437" width="1" height="68" fill="#404040"/>
<rect x="185" y="459" width="5" height="14" fill="#404040"/>
<rect x="195" y="336" width="1" height="156" fill="#00b3dd"/>
<rect x="193" y="348" width="5" height="125" fill="#00b3dd"/>
<rect x="194" y="349" width="3" height="123" fill="#fff"/>
<rect x="203" y="330" width="1" height="62" fill="#404040"/>
<rect x="201" y="348" width="5" height="39" fill="#404040"/>
<rect x="211" y="348" width="1" height="42" fill="#00b3dd"/>
<rect x="209" y="352" width="5" height="35" fill="#00b3dd"/>
<rect x="210" y="353" width="3" height="33" fill="#fff"/>
<rect x="219" y="334" width="1" height="34" fill="#00b3dd"/>
<rect x="217" y="338" width="5" height="14" fill="#00b3dd"/>
<rect x="218" y="339" width="3" height="12" fill="#fff"/>
<rect x="227" y="321" width="1" height="24" fill="#00b3dd"/>
<rect x="225" y="332" width="5" height="6" fill="#00b3dd"/>
<rect x="226" y="333" width="3" height="4" fill="#fff"/>
<rect x="235" y="327" width="1" height="160" fill="#404040"/>
<rect x="233" y="331" width="5" height="136" fill="#404040"/>
<rect x="243" y="285" width="1" height="192" fill="#00b3dd"/>
<rect x="241" y="423" width="5" height="44" fill="#00b3dd"/>
<rect x="242" y="424" width="3" height="42" fill="#fff"/>
<rect x="251" y="377" width="1" height="46" fill="#00b3dd"/>
<rect x="249" y="394" width="5" height="29" fill="#00b3dd"/>
<rect x="250" y="395" width="3" height="27" fill="#fff"/>
<rect x="259" y="389" width="1" height="30" fill="#404040"/>
<rect x="257" y="393" width="5" height="9" fill="#404040"/>
<rect x="267" y="398" width="1" height="43" fill="#404040"/>
<rect x="265" y="401" width="5" height="34" fill="#404040"/>
<rect x="275" y="402" width="1" height="62" fill="#00b3dd"/>
<rect x="273" y="412" width="5" height="23" fill="#00b3dd"/>
<rect x="274" y="413" width="3" height="21" fill="#fff"/>
<rect x="283" y="316" width="1" height="118" fill="#00b3dd"/>
<rect x="281" y="362" width="5" height="51" fill="#00b3dd"/>
<rect x="282" y="363" width="3" height="49" fill="#fff"/>
<rect x="291" y="322" width="1" height="72" fill="#00b3dd"/>
<rect x="289" y="343" width="5" height="20" fill="#00b3dd"/>
<rect x="290" y="344" width="3" height="18" fill="#fff"/>
<rect x="299" y="326" width="1" height="35" fill="#00b3dd"/>
<rect x="297" y="342" width="5" height="3" fill="#00b3dd"/>
<rect x="298" y="343" width="3" height="1" fill="#fff"/>
<rect x="307" y="330" width="1" height="21" fill="#404040"/>
<rect x="305" y="341" width="5" height="4" fill="#404040"/>
<rect x="315" y="344" width="1" height="23" fill="#00b3dd"/>
<rect x="313" y="346" width="5" height="6" fill="#00b3dd"/>
<rect x="314" y="347" width="3" height="4" fill="#fff"/>
<rect x="323" y="316" width="1" height="38" fill="#00b3dd"/>
<rect x="321" y="325" width="5" height="20" fill="#00b3dd"/>
<rect x="322" y="326" width="3" height="18" fill="#fff"/>
<rect x="331" y="322" width="1" height="48" fill="#404040"/>
<rect x="329" y="326" width="5" height="40" fill="#404040"/>
<rect x="339" y="302" width="1" height="83" fill="#00b3dd"/>
<rect x="337" y="325" width="5" height="42" fill="#00b3dd"/>
<rect x="338" y="326" width="3" height="40" fill="#fff"/>
<rect x="347" y="269" width="1" height="71" fill="#00b3dd"/>
<rect x="345" y="291" width="5" height="35" fill="#00b3dd"/>
<rect x="346" y="292" width="3" height="33" fill="#fff"/>
<rect x="355" y="270" width="1" height="35" fill="#404040"/>
<rect x="353" y="290" width="5" height="6" fill="#404040"/>
<rect x="363" y="267" width="1" height="33" fill="#00b3dd"/>
<rect x="361" y="272" width="5" height="22" fill="#00b3dd"/>
<rect x="362" y="273" width="3" height="20" fill="#fff"/>
<rect x="371" y="263" width="1" height="20" fill="#404040"/>
<rect x="369" y="271" width="5" height="5" fill="#404040"/>
<rect x="379" y="257" width="1" height="26" fill="#00b3dd"/>
<rect x="377" y="270" width="5" height="6" fill="#00b3dd"/>
<rect x="378" y="271" width="3" height="4" fill="#fff"/>
<rect x="387" y="249" width="1" height="117" fill="#404040"/>
<rect x="385" y="270" width="5" height="75" fill="#404040"/>
<rect x="395" y="275" width="1" height="84" fill="#00b3dd"/>
<rect x="393" y="293" width="5" height="51" fill="#00b3dd"/>
<rect x="394" y="294" width="3" height="49" fill="#fff"/>
<rect x="403" y="286" width="1" height="109" fill="#404040"/>
<rect x="401" y="294" width="5" height="87" fill="#404040"/>
<rect x="411" y="344" width="1" height="84" fill="#404040"/>
<rect x="409" y="380" width="5" height="33" fill="#404040"/>
<rect x="419" y="397" width="1" height="26" fill="#00b3dd"/>
<rect x="417" y="402" width="5" height="12" fill="#00b3dd"/>
<rect x="418" y="403" width="3" height="10" fill="#fff"/>
<rect x="427" y="371" width="1" height="38" fill="#00b3dd"/>
<rect x="425" y="376" width="5" height="28" fill="#00b3dd"/>
<rect x="426" y="377" width="3" height="26" fill="#fff"/>
<rect x="435" y="347" width="1" height="96" fill="#404040"/>
<rect x="433" y="376" width="5" height="53" fill="#404040"/>
<rect x="443" y="379" width="1" height="74" fill="#00b3dd"/>
<rect x="441" y="386" width="5" height="44" fill="#00b3dd"/>
<rect x="442" y="387" width="3" height="42" fill="#fff"/>
<rect x="451" y="349" width="1" height="43" fill="#00b3dd"/>
<rect x="449" y="369" width="5" height="17" fill="#00b3dd"/>
<rect x="450" y="370" width="3" height="15" fill="#fff"/>
<rect x="459" y="356" width="1" height="21" fill="#00b3dd"/>
<rect x="457" y="360" width="5" height="11" fill="#00b3dd"/>
<rect x="458" y="361" width="3" height="9" fill="#fff"/>
<rect x="467" y="341" width="1" height="28" fill="#00b3dd"/>
<rect x="465" y="343" width="5" height="17" fill="#00b3dd"/>
<rect x="466" y="344" width="3" height="15" fill="#fff"/>
<rect x="475" y="314" width="1" height="41" fill="#00b3dd"/>
<rect x="473" y="322" width="5" height="22" fill="#00b3dd"/>
<rect x="474" y="323" width="3" height="20" fill="#fff"/>
<rect x="483" y="295" width="1" height="102" fill="#404040"/>
<rect x="481" y="321" width="5" height="71" fill="#404040"/>
<rect x="491" y="334" width="1" height="58" fill="#00b3dd"/>
<rect x="489" y="350" width="5" height="42" fill="#00b3dd"/>
<rect x="490" y="351" width="3" height="40" fill="#fff"/>
<rect x="499" y="324" width="1" height="36" fill="#00b3dd"/>
<rect x="497" y="347" width="5" height="4" fill="#00b3dd"/>
<rect x="498" y="348" width="3" height="2" fill="#fff"/>
<rect x="507" y="334" width="1" height="29" fill="#00b3dd"/>
<rect x="505" y="339" width="5" height="6" fill="#00b3dd"/>
<rect x="506" y="340" width="3" height="4" fill="#fff"/>
<rect x="515" y="310" width="1" height="35" fill="#00b3dd"/>
<rect x="513" y="311" width="5" height="28" fill="#00b3dd"/>
<rect x="514" y="312" width="3" height="26" fill="#fff"/>
<rect x="523" y="309" width="1" height="28" fill="#404040"/>
<rect x="521" y="312" width="5" height="6" fill="#404040"/>
<rect x="531" y="292" width="1" height="62" fill="#404040"/>
<rect x="529" y="317" width="5" height="7" fill="#404040"/>
<rect x="539" y="255" width="1" height="100" fill="#00b3dd"/>
<rect x="537" y="264" width="5" height="60" fill="#00b3dd"/>
<rect x="538" y="265" width="3" height="58" fill="#fff"/>
<rect x="547" y="207" width="1" height="65" fill="#00b3dd"/>
<rect x="545" y="210" width="5" height="52" fill="#00b3dd"/>
<rect x="546" y="211" width="3" height="50" fill="#fff"/>
<rect x="555" y="194" width="1" height="22" fill="#00b3dd"/>
<rect x="553" y="200" width="5" height="11" fill="#00b3dd"/>
<rect x="554" y="201" width="3" height="9" fill="#fff"/>
<rect x="563" y="212" width="1" height="11" fill="#404040"/>
<rect x="561" y="214" width="5" height="2" fill="#404040"/>
<rect x="571" y="210" width="1" height="23" fill="#404040"/>
<rect x="569" y="214" width="5" height="9" fill="#404040"/>
<rect x="579" y="185" width="1" height="41" fill="#00b3dd"/>
<rect x="577" y="194" width="5" height="30" fill="#00b3dd"/>
<rect x="578" y="195" width="3" height="28" fill="#fff"/>
<rect x="587" y="182" width="1" height="71" fill="#404040"/>
<rect x="585" y="194" width="5" height="50" fill="#404040"/>
<rect x="595" y="167" width="1" height="80" fill="#00b3dd"/>
<rect x="593" y="177" width="5" height="65" fill="#00b3dd"/>
<rect x="594" y="178" width="3" height="63" fill="#fff"/>
<rect x="603" y="153" width="1" height="33" fill="#404040"/>
<rect x="601" y="178" width="5" height="3" fill="#404040"/>
<rect x="611" y="172" width="1" height="16" fill="#00b3dd"/>
<rect x="609" y="177" width="5" height="3" fill="#00b3dd"/>
<rect x="610" y="178" width="3" height="1" fill="#fff"/>
<rect x="619" y="172" width="1" height="41" fill="#404040"/>
<rect x="617" y="176" width="5" height="27" fill="#404040"/>
<rect x="627" y="185" width="1" height="24" fill="#00b3dd"/>
<rect x="625" y="200" width="5" height="2" fill="#00b3dd"/>
<rect x="635" y="172" width="1" height="67" fill="#00b3dd"/>
<rect x="633" y="190" width="5" height="11" fill="#00b3dd"/>
<rect x="634" y="191" width="3" height="9" fill="#fff"/>
<rect x="643" y="183" width="1" height="127" fill="#404040"/>
<rect x="641" y="190" width="5" height="87" fill="#404040"/>
<rect x="651" y="267" width="1" height="91" fill="#404040"/>
<rect x="649" y="276" width="5" height="61" fill="#404040"/>
<rect x="659" y="330" width="1" height="21" fill="#404040"/>
<rect x="657" y="335" width="5" height="6" fill="#404040"/>
<rect x="667" y="329" width="1" height="30" fill="#00b3dd"/>
<rect x="665" y="339" width="5" height="2" fill="#00b3dd"/>
<rect x="675" y="332" width="1" height="61" fill="#404040"/>
<rect x="673" y="339" width="5" height="54" fill="#404040"/>
<rect x="683" y="284" width="1" height="148" fill="#00b3dd"/>
<rect x="681" y="322" width="5" height="70" fill="#00b3dd"/>
<rect x="682" y="323" width="3" height="68" fill="#fff"/>
<rect x="691" y="177" width="1" height="146" fill="#00b3dd"/>
<rect x="689" y="207" width="5" height="116" fill="#00b3dd"/>
<rect x="690" y="208" width="3" height="114" fill="#fff"/>
<rect x="699" y="197" width="1" height="54" fill="#404040"/>
<rect x="697" y="207" width="5" height="22" fill="#404040"/>
<rect x="707" y="214" width="1" height="41" fill="#404040"/>
<rect x="705" y="228" width="5" height="20" fill="#404040"/>
<rect x="715" y="220" width="1" height="28" fill="#00b3dd"/>
<rect x="713" y="245" width="5" height="3" fill="#00b3dd"/>
<rect x="714" y="246" width="3" height="1" fill="#fff"/>
<rect x="723" y="226" width="1" height="42" fill="#404040"/>
<rect x="721" y="245" width="5" height="14" fill="#404040"/>
<rect x="731" y="238" width="1" height="109" fill="#404040"/>
<rect x="729" y="256" width="5" height="62" fill="#404040"/>
<rect x="739" y="305" width="1" height="93" fill="#404040"/>
<rect x="737" y="317" width="5" height="61" fill="#404040"/>
<rect x="747" y="337" width="1" height="50" fill="#404040"/>
<rect x="745" y="378" width="5" height="7" fill="#404040"/>
<rect x="755" y="372" width="1" height="23" fill="#00b3dd"/>
<rect x="753" y="383" width="5" height="2" fill="#00b3dd"/>
<rect x="763" y="374" width="1" height="28" fill="#404040"/>
<rect x="761" y="382" width="5" height="15" fill="#404040"/>
<rect x="771" y="357" width="1" height="50" fill="#00b3dd"/>
<rect x="769" y="364" width="5" height="32" fill="#00b3dd"/>
<rect x="770" y="365" width="3" height="30" fill="#fff"/>
<rect x="779" y="305" width="1" height="127" fill="#404040"/>
<rect x="777" y="362" width="5" height="33" fill="#404040"/>
<rect x="787" y="337" width="1" height="90" fill="#00b3dd"/>
<rect x="785" y="347" width="5" height="48" fill="#00b3dd"/>
<rect x="786" y="348" width="3" height="46" fill="#fff"/>
<rect x="795" y="326" width="1" height="52" fill="#00b3dd"/>
<rect x="793" y="346" width="5" height="2" fill="#00b3dd"/>
<rect x="803" y="344" width="1" height="34" fill="#404040"/>
<rect x="801" y="345" width="5" height="25" fill="#404040"/>
<rect x="811" y="349" width="1" height="26" fill="#00b3dd"/>
<rect x="809" y="362" width="5" height="13" fill="#00b3dd"/>
<rect x="810" y="363" width="3" height="11" fill="#fff"/>
<rect x="819" y="326" width="1" height="37" fill="#00b3dd"/>
<rect x="817" y="340" width="5" height="23" fill="#00b3dd"/>
<rect x="818" y="341" width="3" height="21" fill="#fff"/>
<rect x="827" y="322" width="1" height="35" fill="#00b3dd"/>
<rect x="825" y="325" width="5" height="17" fill="#00b3dd"/>
<rect x="826" y="326" width="3" height="15" fill="#fff"/>
<rect x="835" y="240" width="1" height="86" fill="#00b3dd"/>
<rect x="833" y="263" width="5" height="62" fill="#00b3dd"/>
<rect x="834" y="264" width="3" height="60" fill="#fff"/>
<rect x="843" y="228" width="1" height="73" fill="#00b3dd"/>
<rect x="841" y="260" width="5" height="3" fill="#00b3dd"/>
<rect x="842" y="261" width="3" height="1" fill="#fff"/>
<rect x="851" y="251" width="1" height="80" fill="#404040"/>
<rect x="849" y="260" width="5" height="70" fill="#404040"/>
<rect x="859" y="314" width="1" height="26" fill="#00b3dd"/>
<rect x="857" y="325" width="5" height="4" fill="#00b3dd"/>
<rect x="858" y="326" width="3" height="2" fill="#fff"/>
<rect x="867" y="311" width="1" height="30" fill="#404040"/>
<rect x="865" y="326" width="5" height="4" fill="#404040"/>
<rect x="875" y="312" width="1" height="27" fill="#404040"/>
<rect x="873" y="328" width="5" height="7" fill="#404040"/>
<rect x="883" y="284" width="1" height="76" fill="#00b3dd"/>
<rect x="881" y="319" width="5" height="16" fill="#00b3dd"/>
<rect x="882" y="320" width="3" height="14" fill="#fff"/>
<rect x="891" y="290" width="1" height="81" fill="#00b3dd"/>
<rect x="889" y="307" width="5" height="11" fill="#00b3dd"/>
<rect x="890" y="308" width="3" height="9" fill="#fff"/>
<rect x="899" y="303" width="1" height="40" fill="#404040"/>
<rect x="897" y="306" width="5" height="27" fill="#404040"/>
<rect x="907" y="314" width="1" height="33" fill="#00b3dd"/>
<rect x="905" y="322" width="5" height="11" fill="#00b3dd"/>
<rect x="906" y="323" width="3" height="9" fill="#fff"/>
<rect x="915" y="290" width="1" height="36" fill="#00b3dd"/>
<rect x="913" y="299" width="5" height="25" fill="#00b3dd"/>
<rect x="914" y="300" width="3" height="23" fill="#fff"/>
<rect x="923" y="256" width="1" height="44" fill="#00b3dd"/>
<rect x="921" y="272" width="5" height="26" fill="#00b3dd"/>
<rect x="922" y="273" width="3" height="24" fill="#fff"/>
<rect x="931" y="167" width="1" height="107" fill="#00b3dd"/>
<rect x="929" y="167" width="5" height="106" fill="#00b3dd"/>
<rect x="930" y="168" width="3" height="104" fill="#fff"/>
<rect x="939" y="41" width="1" height="162" fill="#00b3dd"/>
<rect x="937" y="60" width="5" height="108" fill="#00b3dd"/>
<rect x="938" y="61" width="3" height="106" fill="#fff"/>
<rect x="947" y="35" width="1" height="54" fill="#00b3dd"/>
<rect x="945" y="57" width="5" height="2" fill="#00b3dd"/>
<rect x="955" y="51" width="1" height="41" fill="#404040"/>
<rect x="953" y="57" width="5" height="25" fill="#404040"/>
<rect x="963" y="70" width="1" height="32" fill="#404040"/>
<rect x="961" y="80" width="5" height="17" fill="#404040"/>
<rect x="971" y="70" width="1" height="33" fill="#00b3dd"/>
<rect x="969" y="88" width="5" height="9" fill="#00b3dd"/>
<rect x="970" y="89" width="3" height="7" fill="#fff"/>
<rect x="979" y="70" width="1" height="84" fill="#404040"/>
<rect x="977" y="88" width="5" height="45" fill="#404040"/>
<rect x="987" y="108" width="1" height="63" fill="#404040"/>
<rect x="985" y="131" width="5" height="7" fill="#404040"/>
<rect x="995" y="128" width="1" height="36" fill="#404040"/>
<rect x="993" y="138" width="5" height="23" fill="#404040"/>
<rect x="1003" y="148" width="1" height="20" fill="#00b3dd"/>
<rect x="1001" y="157" width="5" height="4" fill="#00b3dd"/>
<rect x="1002" y="158" width="3" height="2" fill="#fff"/>
<rect x="1011" y="154" width="1" height="34" fill="#404040"/>
<rect x="1009" y="156" width="5" height="12" fill="#404040"/>
<rect x="1019" y="165" width="1" height="30" fill="#404040"/>
<rect x="1017" y="167" width="5" height="21" fill="#404040"/>
<rect x="1027" y="115" width="1" height="78" fill="#00b3dd"/>
<rect x="1025" y="163" width="5" height="25" fill="#00b3dd"/>
<rect x="1026" y="164" width="3" height="23" fill="#fff"/>
<rect x="1035" y="103" width="1" height="132" fill="#404040"/>
<rect x="1033" y="162" width="5" height="46" fill="#404040"/>
<rect x="1043" y="185" width="1" height="49" fill="#404040"/>
<rect x="1041" y="207" width="5" height="9" fill="#404040"/>
<rect x="1051" y="189" width="1" height="29" fill="#00b3dd"/>
<rect x="1049" y="205" width="5" height="11" fill="#00b3dd"/>
<rect x="1050" y="206" width="3" height="9" fill="#fff"/>
<rect x="1059" y="185" width="1" height="24" fill="#404040"/>
<rect x="1057" y="191" width="5" height="15" fill="#404040"/>
<rect x="1067" y="188" width="1" height="36" fill="#404040"/>
<rect x="1065" y="204" width="5" height="19" fill="#404040"/>
<rect x="1075" y="220" width="1" height="15" fill="#404040"/>
<rect x="1073" y="220" width="5" height="11" fill="#404040"/>
<rect x="1083" y="164" width="1" height="105" fill="#00b3dd"/>
<rect x="1081" y="177" width="5" height="55" fill="#00b3dd"/>
<rect x="1082" y="178" width="3" height="53" fill="#fff"/>
<rect x="1091" y="173" width="1" height="93" fill="#404040"/>
<rect x="1089" y="177" width="5" height="83" fill="#404040"/>
<rect x="1099" y="218" width="1" height="44" fill="#00b3dd"/>
<rect x="1097" y="235" width="5" height="25" fill="#00b3dd"/>
<rect x="1098" y="236" width="3" height="23" fill="#fff"/>
<rect x="1107" y="224" width="1" height="34" fill="#404040"/>
<rect x="1105" y="235" width="5" height="5" fill="#404040"/>
<rect x="1115" y="208" width="1" height="34" fill="#00b3dd"/>
<rect x="1113" y="208" width="5" height="33" fill="#00b3dd"/>
<rect x="1114" y="209" width="3" height="31" fill="#fff"/>
<rect x="1123" y="201" width="1" height="18" fill="#404040"/>
<rect x="1121" y="208" width="5" height="9" fill="#404040"/>
<rect x="1131" y="212" width="1" height="46" fill="#00b3dd"/>
<rect x="1129" y="212" width="5" height="5" fill="#00b3dd"/>
<rect x="1130" y="213" width="3" height="3" fill="#fff"/>
<rect x="1139" y="183" width="1" height="48" fill="#00b3dd"/>
<rect x="1137" y="203" width="5" height="11" fill="#00b3dd"/>
<rect x="1138" y="204" width="3" height="9" fill="#fff"/>
<rect x="1147" y="157" width="1" height="58" fill="#00b3dd"/>
<rect x="1145" y="187" width="5" height="17" fill="#00b3dd"/>
<rect x="1146" y="188" width="3" height="15" fill="#fff"/>
<rect x="1155" y="182" width="1" height="48" fill="#404040"/>
<rect x="1153" y="187" width="5" height="39" fill="#404040"/>
<rect x="1163" y="206" width="1" height="28" fill="#00b3dd"/>
<rect x="1161" y="214" width="5" height="11" fill="#00b3dd"/>
<rect x="1162" y="215" width="3" height="9" fill="#fff"/>
<rect x="1171" y="178" width="1" height="41" fill="#00b3dd"/>
<rect x="1169" y="194" width="5" height="22" fill="#00b3dd"/>
<rect x="1170" y="195" width="3" height="20" fill="#fff"/>
<rect x="1179" y="180" width="1" height="126" fill="#404040"/>
<rect x="1177" y="194" width="5" height="103" fill="#404040"/>
<rect x="1187" y="242" width="1" height="123" fill="#00b3dd"/>
<rect x="1185" y="282" width="5" height="15" fill="#00b3dd"/>
<rect x="1186" y="283" width="3" height="13" fill="#fff"/>
<rect x="1195" y="241" width="1" height="53" fill="#00b3dd"/>
<rect x="1193" y="267" width="5" height="16" fill="#00b3dd"/>
<rect x="1194" y="268" width="3" height="14" fill="#fff"/>
<rect x="1203" y="264" width="1" height="25" fill="#404040"/>
<rect x="1201" y="267" width="5" height="9" fill="#404040"/>
<rect x="1211" y="260" width="1" height="24" fill="#00b3dd"/>
<rect x="1209" y="270" width="5" height="6" fill="#00b3dd"/>
<rect x="1210" y="271" width="3" height="4" fill="#fff"/>
<rect x="1219" y="226" width="1" height="48" fill="#00b3dd"/>
<rect x="1217" y="245" width="5" height="24" fill="#00b3dd"/>
<rect x="1218" y="246" width="3" height="22" fill="#fff"/>
<rect x="1227" y="225" width="1" height="57" fill="#404040"/>
<rect x="1225" y="245" width="5" height="31" fill="#404040"/>
<rect x="1235" y="273" width="1" height="108" fill="#404040"/>
<rect x="1233" y="273" width="5" height="80" fill="#404040"/>
<rect x="1243" y="343" width="1" height="66" fill="#00b3dd"/>
<rect x="1241" y="350" width="5" height="2" fill="#00b3dd"/>
<rect x="1251" y="338" width="1" height="38" fill="#00b3dd"/>
<rect x="1249" y="349" width="5" height="2" fill="#00b3dd"/>
<rect x="1259" y="334" width="1" height="24" fill="#00b3dd"/>
<rect x="1257" y="346" width="5" height="5" fill="#00b3dd"/>
<rect x="1258" y="347" width="3" height="3" fill="#fff"/>
<rect x="1267" y="339" width="1" height="44" fill="#404040"/>
<rect x="1265" y="347" width="5" height="33" fill="#404040"/>
<rect x="1275" y="285" width="1" height="102" fill="#00b3dd"/>
<rect x="1273" y="288" width="5" height="92" fill="#00b3dd"/>
<rect x="1274" y="289" width="3" height="90" fill="#fff"/>
<rect x="1283" y="273" width="1" height="74" fill="#404040"/>
<rect x="1281" y="287" width="5" height="55" fill="#404040"/>
<rect x="1291" y="302" width="1" height="54" fill="#00b3dd"/>
<rect x="1289" y="312" width="5" height="28" fill="#00b3dd"/>
<rect x="1290" y="313" width="3" height="26" fill="#fff"/>
<rect x="1299" y="306" width="1" height="21" fill="#404040"/>
<rect x="1297" y="310" width="5" height="14" fill="#404040"/>
<rect x="1307" y="335" width="1" height="25" fill="#404040"/>
<rect x="1305" y="336" width="5" height="17" fill="#404040"/>
<rect x="1315" y="334" width="1" height="32" fill="#00b3dd"/>
<rect x="1313" y="350" width="5" height="2" fill="#00b3dd"/>
<rect x="1323" y="350" width="1" height="44" fill="#404040"/>
<rect x="1321" y="350" width="5" height="24" fill="#404040"/>
<rect x="1331" y="347" width="1" height="91" fill="#00b3dd"/>
<rect x="1329" y="372" width="5" height="2" fill="#00b3dd"/>
<rect x="1339" y="330" width="1" height="65" fill="#404040"/>
<rect x="1337" y="371" width="5" height="2" fill="#404040"/>
<rect x="1347" y="371" width="1" height="27" fill="#404040"/>
<rect x="1345" y="372" width="5" height="14" fill="#404040"/>
<rect x="1355" y="354" width="1" height="32" fill="#00b3dd"/>
<rect x="1353" y="357" width="5" height="29" fill="#00b3dd"/>
<rect x="1354" y="358" width="3" height="27" fill="#fff"/>
<rect x="1363" y="335" width="1" height="28" fill="#00b3dd"/>
<rect x="1361" y="354" width="5" height="4" fill="#00b3dd"/>
<rect x="1362" y="355" width="3" height="2" fill="#fff"/>
<rect x="1371" y="329" width="1" height="38" fill="#00b3dd"/>
<rect x="1369" y="330" width="5" height="24" fill="#00b3dd"/>
<rect x="1370" y="331" width="3" height="22" fill="#fff"/>
<rect x="1379" y="251" width="1" height="85" fill="#00b3dd"/>
<rect x="1377" y="266" width="5" height="65" fill="#00b3dd"/>
<rect x="1378" y="267" width="3" height="63" fill="#fff"/>
<rect x="1387" y="168" width="1" height="114" fill="#00b3dd"/>
<rect x="1385" y="172" width="5" height="97" fill="#00b3dd"/>
<rect x="1386" y="173" width="3" height="95" fill="#fff"/>
<rect x="1395" y="157" width="1" height="79" fill="#404040"/>
<rect x="1393" y="172" width="5" height="57" fill="#404040"/>
<rect x="1403" y="92" width="1" height="153" fill="#00b3dd"/>
<rect x="1401" y="108" width="5" height="120" fill="#00b3dd"/>
<rect x="1402" y="109" width="3" height="118" fill="#fff"/>
<rect x="1411" y="81" width="1" height="261" fill="#404040"/>
<rect x="1409" y="105" width="5" height="158" fill="#404040"/>
<rect x="1419" y="237" width="1" height="121" fill="#404040"/>
<rect x="1417" y="262" width="5" height="63" fill="#404040"/>
<rect x="1427" y="226" width="1" height="141" fill="#00b3dd"/>
<rect x="1425" y="232" width="5" height="93" fill="#00b3dd"/>
<rect x="1426" y="233" width="3" height="91" fill="#fff"/>
<rect x="1435" y="194" width="1" height="127" fill="#404040"/>
<rect x="1433" y="232" width="5" height="37" fill="#404040"/>
<rect x="1443" y="230" width="1" height="70" fill="#00b3dd"/>
<rect x="1441" y="264" width="5" height="7" fill="#00b3dd"/>
<rect x="1442" y="265" width="3" height="5" fill="#fff"/>
<rect x="1451" y="249" width="1" height="99" fill="#404040"/>
<rect x="1449" y="262" width="5" height="41" fill="#404040"/>
<rect x="1459" y="284" width="1" height="44" fill="#404040"/>
<rect x="1457" y="301" width="5" height="10" fill="#404040"/>
<rect x="1467" y="206" width="1" height="131" fill="#00b3dd"/>
<rect x="1465" y="237" width="5" height="74" fill="#00b3dd"/>
<rect x="1466" y="238" width="3" height="72" fill="#fff"/>
</g>
</g>
<g stroke="#c4c4c4" stroke-width="1" stroke-dasharray="3 3" shape-rendering="crispEdges">
<line x1="4" y1="697.5" x2="1870" y2="697.5"/><line x1="4" y1="771.5" x2="1870" y2="771.5"/></g>
<path d="M3 741.5h2M5 740.5h6M11 740.5h1M12 739.5h7M19 738.5h2M21 737.5h2M23 736.5h2M25 735.5h2M27.5 735v1M28.5 736v1M29.5 737v2M30.5 739v1M31.5 740v1M32.5 741v1M33.5 742v1M34.5 743v1M35 744.5h5M40 745.5h3M43 745.5h1M44 744.5h1M45 743.5h2M47 742.5h1M48 741.5h2M50 740.5h1M51 740.5h1M52 739.5h4M56 738.5h3M59 737.5h3M62 736.5h3M65 735.5h2M67 735.5h1M68 734.5h3M71 733.5h4M75 733.5h1M76 732.5h4M80 731.5h3M90.5 715v2M89.5 717v2M88.5 719v2M87.5 721v2M86.5 723v2M85.5 725v2M84.5 727v2M83.5 729v2M91.5 715v2M92.5 717v1M93.5 718v1M94.5 719v1M95.5 720v1M96.5 721v2M97.5 723v1M98.5 724v1M99 725.5h6M105 726.5h2M107 726.5h3M110 725.5h5M115 725.5h8M123 725.5h1M124 724.5h4M128 723.5h3M131 723.5h8M139 723.5h1M140 724.5h2M142 725.5h2M144 726.5h2M146 727.5h1M147 727.5h1M148 726.5h2M150 725.5h3M153 724.5h2M155 724.5h1M156 723.5h7M163 723.5h2M165 724.5h2M167 725.5h3M170 726.5h1M171 726.5h2M173 727.5h2M175 728.5h2M177 729.5h2M179 729.5h2M181 730.5h4M185 731.5h2M194.5 716v2M193.5 718v2M192.5 720v2M191.5 722v2M190.5 724v2M189.5 726v2M188.5 728v2M187.5 730v1M195 716.5h1M196 717.5h1M197 718.5h2M199 719.5h1M200 720.5h1M201 721.5h2M203 722.5h1M204 721.5h2M206 720.5h2M208 719.5h3M211 718.5h4M215 717.5h4M219 717.5h1M220 716.5h7M227.5 716v3M228.5 719v2M229.5 721v3M230.5 724v2M231.5 726v3M232.5 729v2M233.5 731v3M234.5 734v2M235 736.5h1M236 735.5h1M237 734.5h2M239 733.5h2M241 732.5h1M242 731.5h1M243 731.5h2M245 730.5h2M247 729.5h2M249 728.5h2M251 728.5h5M256 729.5h3M259 729.5h1M260 730.5h2M262 731.5h2M264 732.5h2M266 733.5h1M267 733.5h1M268 732.5h4M272 731.5h3M275 730.5h2M277 729.5h1M278 728.5h1M279 727.5h2M281 726.5h1M282 725.5h1M283 724.5h5M288 723.5h3M291 723.5h8M299 723.5h8M307 723.5h8M315 723.5h1M316 722.5h4M320 721.5h3M323 721.5h1M324 722.5h1M325 723.5h1M326 724.5h1M327 725.5h1M328 726.5h1M329 727.5h2M331 728.5h1M332 727.5h1M333 726.5h2M335 725.5h1M336 724.5h2M338 723.5h1M339 723.5h1M340 722.5h1M341 721.5h2M343 720.5h1M344 719.5h2M346 718.5h1M347 718.5h5M352 719.5h3M355 719.5h1M356 718.5h3M359 717.5h2M361 716.5h2M363 716.5h5M368 717.5h3M371 717.5h3M374 716.5h5M379.5 716v2M380.5 718v2M381.5 720v2M382.5 722v2M383.5 724v2M384.5 726v2M385.5 728v2M386.5 730v2M394.5 724v1M393.5 725v1M392.5 726v1M391.5 727v1M390.5 728v1M389.5 729v1M388.5 730v1M387.5 731v1M395.5 724v2M396.5 726v2M397.5 728v2M398.5 730v1M399.5 731v2M400.5 733v2M401.5 735v2M402.5 737v1M403 738.5h1M404 739.5h2M406 740.5h2M408 741.5h2M410 742.5h1M411 742.5h2M413 741.5h4M417 740.5h2M419 740.5h1M420 739.5h2M422 738.5h2M424 737.5h2M426 736.5h1M427 736.5h1M428 737.5h1M429 738.5h1M430 739.5h1M431 740.5h1M432 741.5h1M433 742.5h2M435 742.5h2M437 741.5h1M438 740.5h1M439 739.5h1M440 738.5h1M441 737.5h1M442 736.5h1M443 736.5h1M444 735.5h4M448 734.5h3M451 734.5h3M454 733.5h5M459 733.5h1M460 732.5h3M463 731.5h2M465 730.5h2M467 730.5h1M468 729.5h3M471 728.5h2M473 727.5h2M475.5 727v2M476.5 729v1M477.5 730v1M478.5 731v2M479.5 733v1M480.5 734v2M481.5 736v1M482.5 737v1M483 738.5h1M484 737.5h1M485 736.5h1M486 735.5h2M488 734.5h1M489 733.5h2M491 732.5h5M496 731.5h3M499 731.5h3M502 730.5h5M507 730.5h1M508 729.5h2M510 728.5h2M512 727.5h2M514 726.5h1M515 726.5h5M520 727.5h3M523 727.5h5M528 728.5h3M538.5 720v1M537.5 721v1M536.5 722v1M535.5 723v1M534.5 724v1M533.5 725v1M532.5 726v1M531.5 727v1M539 719.5h2M541 718.5h1M542 717.5h2M544 716.5h1M545 715.5h1M546 714.5h1M547 714.5h4M551 713.5h4M555 713.5h2M557 714.5h2M559 715.5h3M562 716.5h1M563 716.5h3M566 717.5h4M570 718.5h1M571 718.5h1M572 717.5h2M574 716.5h2M576 715.5h2M578 714.5h1M579.5 714v2M580.5 716v1M581.5 717v1M582.5 718v1M583.5 719v2M584.5 721v1M585.5 722v1M586.5 723v1M594.5 716v1M593.5 717v1M592.5 718v1M591.5 719v1M590.5 720v1M589.5 721v1M588.5 722v1M587.5 723v1M595 716.5h5M600 717.5h3M603 717.5h8M611 717.5h1M612 718.5h2M614 719.5h1M615 720.5h2M617 721.5h1M618 722.5h1M619 722.5h8M627 722.5h1M628 721.5h4M632 720.5h3M635.5 720v3M636.5 723v2M637.5 725v2M638.5 727v2M639.5 729v2M640.5 731v2M641.5 733v2M642.5 735v2M643 738.5h1M644 739.5h1M645 740.5h1M646 741.5h2M648 742.5h1M649 743.5h1M650 744.5h1M651 745.5h8M659 745.5h8M667 745.5h1M668 746.5h1M669 747.5h1M670 748.5h1M671 749.5h1M672 750.5h1M673 751.5h2M682.5 738v2M681.5 740v2M680.5 742v2M679.5 744v1M678.5 745v2M677.5 747v2M676.5 749v2M675.5 751v1M690.5 725v2M689.5 727v2M688.5 729v1M687.5 730v2M686.5 732v1M685.5 733v2M684.5 735v2M683.5 737v1M691 725.5h2M693 726.5h2M695 727.5h3M698 728.5h1M699 728.5h3M702 729.5h4M706 730.5h1M707 730.5h8M715 730.5h3M718 731.5h4M722 732.5h1M723.5 732v1M724.5 733v1M725.5 734v1M726.5 735v1M727.5 736v1M728.5 737v1M729.5 738v1M730.5 739v1M731 740.5h1M732 741.5h1M733 742.5h1M734 743.5h1M735 744.5h1M736 745.5h1M737 746.5h2M739 747.5h8M747 747.5h8M755 747.5h2M757 748.5h4M761 749.5h2M763 749.5h1M764 748.5h1M765 747.5h1M766 746.5h2M768 745.5h1M769 744.5h1M770 743.5h1M771 743.5h1M772 744.5h2M774 745.5h2M776 746.5h2M778 747.5h1M786.5 739v1M785.5 740v1M784.5 741v1M783.5 742v1M782.5 743v1M781.5 744v1M780.5 745v1M779.5 746v1M787 739.5h3M790 738.5h5M795 738.5h1M796 739.5h2M798 740.5h2M800 741.5h2M802 742.5h1M803 742.5h3M806 741.5h5M811 741.5h1M812 740.5h2M814 739.5h2M816 738.5h2M818 737.5h1M819 737.5h1M820 736.5h3M823 735.5h2M825 734.5h2M834.5 724v2M833.5 726v1M832.5 727v1M831.5 728v1M830.5 729v2M829.5 731v1M828.5 732v1M827.5 733v1M835 724.5h8M843.5 724v2M844.5 726v1M845.5 727v2M846.5 729v1M847.5 730v2M848.5 732v1M849.5 733v2M850.5 735v1M851 736.5h3M854 735.5h5M859 735.5h5M864 736.5h3M867 736.5h5M872 737.5h3M875 737.5h1M876 736.5h3M879 735.5h2M881 734.5h2M883 734.5h1M884 733.5h3M887 732.5h2M889 731.5h2M891 731.5h1M892 732.5h2M894 733.5h1M895 734.5h2M897 735.5h1M898 736.5h1M899 736.5h2M901 735.5h4M905 734.5h2M907 734.5h1M908 733.5h2M910 732.5h2M912 731.5h2M914 730.5h1M915 730.5h1M916 729.5h1M917 728.5h2M919 727.5h1M920 726.5h2M922 725.5h1M930.5 711v2M929.5 713v2M928.5 715v2M927.5 717v1M926.5 718v2M925.5 720v2M924.5 722v2M923.5 724v1M938.5 702v1M937.5 703v2M936.5 705v1M935.5 706v1M934.5 707v1M933.5 708v1M932.5 709v1M931.5 710v1M939 702.5h8M947 702.5h1M948 703.5h2M950 704.5h1M951 705.5h2M953 706.5h1M954 707.5h1M955 707.5h2M957 708.5h2M959 709.5h3M962 710.5h1M963 710.5h8M971.5 710v1M972.5 711v2M973.5 713v1M974.5 714v1M975.5 715v1M976.5 716v1M977.5 717v1M978.5 718v1M979 719.5h5M984 720.5h3M987 720.5h1M988 721.5h2M990 722.5h2M992 723.5h2M994 724.5h1M995 724.5h8M1003 724.5h3M1006 725.5h4M1010 726.5h1M1011 726.5h1M1012 727.5h2M1014 728.5h2M1016 729.5h2M1018 730.5h1M1019 730.5h1M1020 729.5h2M1022 728.5h2M1024 727.5h2M1026 726.5h1M1027.5 726v1M1028.5 727v2M1029.5 729v1M1030.5 730v1M1031.5 731v1M1032.5 732v1M1033.5 733v1M1034.5 734v1M1035 735.5h5M1040 736.5h3M1043 736.5h2M1045 735.5h4M1049 734.5h2M1051 734.5h8M1059 734.5h2M1061 735.5h2M1063 736.5h3M1066 737.5h1M1067 737.5h2M1069 738.5h4M1073 739.5h2M1082.5 728v2M1081.5 730v1M1080.5 731v1M1079.5 732v2M1078.5 734v1M1077.5 735v2M1076.5 737v1M1075.5 738v1M1083.5 728v2M1084.5 730v2M1085.5 732v2M1086.5 734v2M1087.5 736v2M1088.5 738v2M1089.5 740v2M1090.5 742v1M1091 743.5h1M1092 742.5h1M1093 741.5h2M1095 740.5h1M1096 739.5h2M1098 738.5h1M1099 738.5h5M1104 739.5h3M1107 739.5h1M1108 738.5h1M1109 737.5h1M1110 736.5h2M1112 735.5h1M1113 734.5h1M1114 733.5h1M1115 733.5h5M1120 734.5h3M1123 734.5h8M1131 734.5h1M1132 733.5h4M1136 732.5h3M1139 732.5h1M1140 731.5h3M1143 730.5h2M1145 729.5h2M1147.5 729v1M1148.5 730v1M1149.5 731v1M1150.5 732v1M1151.5 733v1M1152.5 734v1M1153.5 735v1M1154.5 736v1M1155 737.5h2M1157 736.5h4M1161 735.5h2M1163 735.5h1M1164 734.5h1M1165 733.5h2M1167 732.5h1M1168 731.5h2M1170 730.5h1M1171.5 730v3M1172.5 733v2M1173.5 735v2M1174.5 737v2M1175.5 739v3M1176.5 742v2M1177.5 744v2M1178.5 746v2M1179 748.5h1M1180 747.5h3M1183 746.5h2M1185 745.5h2M1187 745.5h1M1188 744.5h3M1191 743.5h2M1193 742.5h2M1195 742.5h5M1200 743.5h3M1203 743.5h3M1206 742.5h5M1211 742.5h1M1212 741.5h1M1213 740.5h2M1215 739.5h1M1216 738.5h2M1218 737.5h1M1219 737.5h1M1220 738.5h2M1222 739.5h1M1223 740.5h2M1225 741.5h1M1226 742.5h1M1227.5 742v2M1228.5 744v1M1229.5 745v2M1230.5 747v1M1231.5 748v1M1232.5 749v2M1233.5 751v1M1234.5 752v1M1235 753.5h8M1243 753.5h3M1246 752.5h5M1251 752.5h8M1259 752.5h1M1260 753.5h2M1262 754.5h2M1264 755.5h2M1266 756.5h1M1274.5 736v3M1273.5 739v2M1272.5 741v3M1271.5 744v2M1270.5 746v3M1269.5 749v2M1268.5 751v3M1267.5 754v2M1275.5 736v1M1276.5 737v1M1277.5 738v1M1278.5 739v1M1279.5 740v1M1280.5 741v1M1281.5 742v1M1282.5 743v1M1283 744.5h1M1284 743.5h1M1285 742.5h2M1287 741.5h1M1288 740.5h2M1290 739.5h1M1291 739.5h2M1293 740.5h4M1297 741.5h2M1299 741.5h1M1300 742.5h2M1302 743.5h2M1304 744.5h2M1306 745.5h1M1307 745.5h3M1310 744.5h5M1315 744.5h1M1316 745.5h2M1318 746.5h2M1320 747.5h2M1322 748.5h1M1323 748.5h3M1326 747.5h5M1331 747.5h8M1339 747.5h2M1341 748.5h4M1345 749.5h2M1347 748.5h2M1349 747.5h1M1350 746.5h1M1351 745.5h1M1352 744.5h1M1353 743.5h1M1354 742.5h1M1355 742.5h8M1363 742.5h1M1364 741.5h1M1365 740.5h1M1366 739.5h2M1368 738.5h1M1369 737.5h1M1370 736.5h1M1378.5 724v2M1377.5 726v1M1376.5 727v2M1375.5 729v1M1374.5 730v2M1373.5 732v1M1372.5 733v2M1371.5 735v1M1386.5 712v2M1385.5 714v1M1384.5 715v2M1383.5 717v1M1382.5 718v2M1381.5 720v1M1380.5 721v2M1379.5 723v1M1387.5 712v2M1388.5 714v1M1389.5 715v1M1390.5 716v2M1391.5 718v1M1392.5 719v2M1393.5 721v1M1394.5 722v1M1402.5 711v2M1401.5 713v1M1400.5 714v2M1399.5 716v1M1398.5 717v2M1397.5 719v1M1396.5 720v2M1395.5 722v1M1403.5 711v3M1404.5 714v3M1405.5 717v2M1406.5 719v3M1407.5 722v2M1408.5 724v3M1409.5 727v3M1410.5 730v2M1411 732.5h1M1412 733.5h1M1413 734.5h1M1414 735.5h2M1416 736.5h1M1417 737.5h1M1418 738.5h1M1426.5 729v1M1425.5 730v2M1424.5 732v1M1423.5 733v1M1422.5 734v1M1421.5 735v1M1420.5 736v1M1419.5 737v1M1427 729.5h1M1428 730.5h2M1430 731.5h2M1432 732.5h2M1434 733.5h1M1435 733.5h3M1438 732.5h5M1443 732.5h1M1444 733.5h2M1446 734.5h2M1448 735.5h2M1450 736.5h1M1451 736.5h5M1456 737.5h3M1459 736.5h2M1461 735.5h1M1462 734.5h1M1463 733.5h1M1464 732.5h1M1465 731.5h1M1466 730.5h1" fill="none" stroke="#00b3dd" stroke-width="1" shape-rendering="crispEdges"/>
<g shape-rendering="crispEdges">
<rect x="3" y="856" width="1" height="45" fill="#00b3dd"/>
<rect x="11" y="856" width="1" height="40" fill="#00b3dd"/>
<rect x="19" y="856" width="1" height="37" fill="#00b3dd"/>
<rect x="27" y="856" width="1" height="30" fill="#00b3dd"/>
<rect x="35" y="856" width="1" height="31" fill="#00b3dd"/>
<rect x="43" y="856" width="1" height="32" fill="#00b3dd"/>
<rect x="51" y="856" width="1" height="30" fill="#00b3dd"/>
<rect x="59" y="856" width="1" height="27" fill="#00b3dd"/>
<rect x="67" y="856" width="1" height="23" fill="#00b3dd"/>
<rect x="75" y="856" width="1" height="19" fill="#00b3dd"/>
<rect x="83" y="856" width="1" height="15" fill="#00b3dd"/>
<rect x="91" y="856" width="1" height="1" fill="#00b3dd"/>
<rect x="99" y="853" width="1" height="3" fill="#00b3dd"/>
<rect x="107" y="849" width="1" height="7" fill="#00b3dd"/>
<rect x="115" y="845" width="1" height="11" fill="#00b3dd"/>
<rect x="123" y="842" width="1" height="14" fill="#00b3dd"/>
<rect x="131" y="839" width="1" height="17" fill="#00b3dd"/>
<rect x="139" y="836" width="1" height="20" fill="#00b3dd"/>
<rect x="147" y="836" width="1" height="20" fill="#00b3dd"/>
<rect x="155" y="835" width="1" height="21" fill="#00b3dd"/>
<rect x="163" y="833" width="1" height="23" fill="#00b3dd"/>
<rect x="171" y="834" width="1" height="22" fill="#00b3dd"/>
<rect x="179" y="835" width="1" height="21" fill="#00b3dd"/>
<rect x="187" y="838" width="1" height="18" fill="#00b3dd"/>
<rect x="195" y="831" width="1" height="25" fill="#00b3dd"/>
<rect x="203" y="829" width="1" height="27" fill="#00b3dd"/>
<rect x="211" y="826" width="1" height="30" fill="#00b3dd"/>
<rect x="219" y="822" width="1" height="34" fill="#00b3dd"/>
<rect x="227" y="820" width="1" height="36" fill="#00b3dd"/>
<rect x="235" y="827" width="1" height="29" fill="#00b3dd"/>
<rect x="243" y="830" width="1" height="26" fill="#00b3dd"/>
<rect x="251" y="831" width="1" height="25" fill="#00b3dd"/>
<rect x="259" y="833" width="1" height="23" fill="#00b3dd"/>
<rect x="267" y="836" width="1" height="20" fill="#00b3dd"/>
<rect x="275" y="838" width="1" height="18" fill="#00b3dd"/>
<rect x="283" y="836" width="1" height="20" fill="#00b3dd"/>
<rect x="291" y="834" width="1" height="22" fill="#00b3dd"/>
<rect x="299" y="832" width="1" height="24" fill="#00b3dd"/>
<rect x="307" y="831" width="1" height="25" fill="#00b3dd"/>
<rect x="315" y="831" width="1" height="25" fill="#00b3dd"/>
<rect x="323" y="829" width="1" height="27" fill="#00b3dd"/>
<rect x="331" y="831" width="1" height="25" fill="#00b3dd"/>
<rect x="339" y="830" width="1" height="26" fill="#00b3dd"/>
<rect x="347" y="828" width="1" height="28" fill="#00b3dd"/>
<rect x="355" y="826" width="1" height="30" fill="#00b3dd"/>
<rect x="363" y="824" width="1" height="32" fill="#00b3dd"/>
<rect x="371" y="823" width="1" height="33" fill="#00b3dd"/>
<rect x="379" y="822" width="1" height="34" fill="#00b3dd"/>
<rect x="387" y="826" width="1" height="30" fill="#00b3dd"/>
<rect x="395" y="827" width="1" height="29" fill="#00b3dd"/>
<rect x="403" y="834" width="1" height="22" fill="#00b3dd"/>
<rect x="411" y="841" width="1" height="15" fill="#00b3dd"/>
<rect x="419" y="847" width="1" height="9" fill="#00b3dd"/>
<rect x="427" y="849" width="1" height="7" fill="#00b3dd"/>
<rect x="435" y="855" width="1" height="1" fill="#00b3dd"/>
<rect x="459" y="855" width="1" height="1" fill="#00b3dd"/>
<rect x="467" y="855" width="1" height="1" fill="#00b3dd"/>
<rect x="475" y="852" width="1" height="4" fill="#00b3dd"/>
<rect x="483" y="855" width="1" height="1" fill="#00b3dd"/>
<rect x="491" y="855" width="1" height="1" fill="#00b3dd"/>
<rect x="499" y="855" width="1" height="1" fill="#00b3dd"/>
<rect x="507" y="854" width="1" height="2" fill="#00b3dd"/>
<rect x="515" y="850" width="1" height="6" fill="#00b3dd"/>
<rect x="523" y="849" width="1" height="7" fill="#00b3dd"/>
<rect x="531" y="848" width="1" height="8" fill="#00b3dd"/>
<rect x="539" y="843" width="1" height="13" fill="#00b3dd"/>
<rect x="547" y="836" width="1" height="20" fill="#00b3dd"/>
<rect x="555" y="831" width="1" height="25" fill="#00b3dd"/>
<rect x="563" y="827" width="1" height="29" fill="#00b3dd"/>
<rect x="571" y="826" width="1" height="30" fill="#00b3dd"/>
<rect x="579" y="823" width="1" height="33" fill="#00b3dd"/>
<rect x="587" y="824" width="1" height="32" fill="#00b3dd"/>
<rect x="595" y="821" width="1" height="35" fill="#00b3dd"/>
<rect x="603" y="820" width="1" height="36" fill="#00b3dd"/>
<rect x="611" y="818" width="1" height="38" fill="#00b3dd"/>
<rect x="619" y="820" width="1" height="36" fill="#00b3dd"/>
<rect x="627" y="821" width="1" height="35" fill="#00b3dd"/>
<rect x="635" y="822" width="1" height="34" fill="#00b3dd"/>
<rect x="643" y="829" width="1" height="27" fill="#00b3dd"/>
<rect x="651" y="838" width="1" height="18" fill="#00b3dd"/>
<rect x="659" y="846" width="1" height="10" fill="#00b3dd"/>
<rect x="667" y="853" width="1" height="3" fill="#00b3dd"/>
<rect x="675" y="856" width="1" height="3" fill="#00b3dd"/>
<rect x="683" y="856" width="1" height="5" fill="#00b3dd"/>
<rect x="699" y="853" width="1" height="3" fill="#00b3dd"/>
<rect x="707" y="852" width="1" height="4" fill="#00b3dd"/>
<rect x="715" y="851" width="1" height="5" fill="#00b3dd"/>
<rect x="723" y="851" width="1" height="5" fill="#00b3dd"/>
<rect x="731" y="855" width="1" height="1" fill="#00b3dd"/>
<rect x="739" y="856" width="1" height="4" fill="#00b3dd"/>
<rect x="747" y="856" width="1" height="10" fill="#00b3dd"/>
<rect x="755" y="856" width="1" height="15" fill="#00b3dd"/>
<rect x="763" y="856" width="1" height="19" fill="#00b3dd"/>
<rect x="771" y="856" width="1" height="20" fill="#00b3dd"/>
<rect x="779" y="856" width="1" height="23" fill="#00b3dd"/>
<rect x="787" y="856" width="1" height="21" fill="#00b3dd"/>
<rect x="795" y="856" width="1" height="20" fill="#00b3dd"/>
<rect x="803" y="856" width="1" height="20" fill="#00b3dd"/>
<rect x="811" y="856" width="1" height="19" fill="#00b3dd"/>
<rect x="819" y="856" width="1" height="17" fill="#00b3dd"/>
<rect x="827" y="856" width="1" height="14" fill="#00b3dd"/>
<rect x="835" y="856" width="1" height="8" fill="#00b3dd"/>
<rect x="843" y="856" width="1" height="2" fill="#00b3dd"/>
<rect x="851" y="856" width="1" height="3" fill="#00b3dd"/>
<rect x="859" y="856" width="1" height="3" fill="#00b3dd"/>
<rect x="867" y="856" width="1" height="3" fill="#00b3dd"/>
<rect x="875" y="856" width="1" height="3" fill="#00b3dd"/>
<rect x="883" y="856" width="1" height="3" fill="#00b3dd"/>
<rect x="891" y="856" width="1" height="1" fill="#00b3dd"/>
<rect x="899" y="856" width="1" height="2" fill="#00b3dd"/>
<rect x="907" y="856" width="1" height="1" fill="#00b3dd"/>
<rect x="915" y="856" width="1" height="1" fill="#00b3dd"/>
<rect x="923" y="854" width="1" height="2" fill="#00b3dd"/>
<rect x="931" y="845" width="1" height="11" fill="#00b3dd"/>
<rect x="939" y="830" width="1" height="26" fill="#00b3dd"/>
<rect x="947" y="819" width="1" height="37" fill="#00b3dd"/>
<rect x="955" y="812" width="1" height="44" fill="#00b3dd"/>
<rect x="963" y="809" width="1" height="47" fill="#00b3dd"/>
<rect x="971" y="806" width="1" height="50" fill="#00b3dd"/>
<rect x="979" y="807" width="1" height="49" fill="#00b3dd"/>
<rect x="987" y="809" width="1" height="47" fill="#00b3dd"/>
<rect x="995" y="812" width="1" height="44" fill="#00b3dd"/>
<rect x="1003" y="816" width="1" height="40" fill="#00b3dd"/>
<rect x="1011" y="819" width="1" height="37" fill="#00b3dd"/>
<rect x="1019" y="824" width="1" height="32" fill="#00b3dd"/>
<rect x="1027" y="826" width="1" height="30" fill="#00b3dd"/>
<rect x="1035" y="831" width="1" height="25" fill="#00b3dd"/>
<rect x="1043" y="836" width="1" height="20" fill="#00b3dd"/>
<rect x="1051" y="840" width="1" height="16" fill="#00b3dd"/>
<rect x="1059" y="842" width="1" height="14" fill="#00b3dd"/>
<rect x="1067" y="846" width="1" height="10" fill="#00b3dd"/>
<rect x="1075" y="849" width="1" height="7" fill="#00b3dd"/>
<rect x="1083" y="849" width="1" height="7" fill="#00b3dd"/>
<rect x="1091" y="854" width="1" height="2" fill="#00b3dd"/>
<rect x="1099" y="855" width="1" height="1" fill="#00b3dd"/>
<rect x="1107" y="855" width="1" height="1" fill="#00b3dd"/>
<rect x="1115" y="855" width="1" height="1" fill="#00b3dd"/>
<rect x="1123" y="855" width="1" height="1" fill="#00b3dd"/>
<rect x="1131" y="855" width="1" height="1" fill="#00b3dd"/>
<rect x="1147" y="855" width="1" height="1" fill="#00b3dd"/>
<rect x="1179" y="856" width="1" height="4" fill="#00b3dd"/>
<rect x="1187" y="856" width="1" height="8" fill="#00b3dd"/>
<rect x="1195" y="856" width="1" height="10" fill="#00b3dd"/>
<rect x="1203" y="856" width="1" height="11" fill="#00b3dd"/>
<rect x="1211" y="856" width="1" height="12" fill="#00b3dd"/>
<rect x="1219" y="856" width="1" height="11" fill="#00b3dd"/>
<rect x="1227" y="856" width="1" height="12" fill="#00b3dd"/>
<rect x="1235" y="856" width="1" height="18" fill="#00b3dd"/>
<rect x="1243" y="856" width="1" height="22" fill="#00b3dd"/>
<rect x="1251" y="856" width="1" height="25" fill="#00b3dd"/>
<rect x="1259" y="856" width="1" height="27" fill="#00b3dd"/>
<rect x="1267" y="856" width="1" height="30" fill="#00b3dd"/>
<rect x="1275" y="856" width="1" height="27" fill="#00b3dd"/>
<rect x="1283" y="856" width="1" height="27" fill="#00b3dd"/>
<rect x="1291" y="856" width="1" height="25" fill="#00b3dd"/>
<rect x="1299" y="856" width="1" height="24" fill="#00b3dd"/>
<rect x="1307" y="856" width="1" height="24" fill="#00b3dd"/>
<rect x="1315" y="856" width="1" height="24" fill="#00b3dd"/>
<rect x="1323" y="856" width="1" height="26" fill="#00b3dd"/>
<rect x="1331" y="856" width="1" height="26" fill="#00b3dd"/>
<rect x="1339" y="856" width="1" height="26" fill="#00b3dd"/>
<rect x="1347" y="856" width="1" height="28" fill="#00b3dd"/>
<rect x="1355" y="856" width="1" height="26" fill="#00b3dd"/>
<rect x="1363" y="856" width="1" height="24" fill="#00b3dd"/>
<rect x="1371" y="856" width="1" height="21" fill="#00b3dd"/>
<rect x="1379" y="856" width="1" height="14" fill="#00b3dd"/>
<rect x="1387" y="856" width="1" height="2" fill="#00b3dd"/>
<rect x="1395" y="854" width="1" height="2" fill="#00b3dd"/>
<rect x="1403" y="842" width="1" height="14" fill="#00b3dd"/>
<rect x="1411" y="842" width="1" height="14" fill="#00b3dd"/>
<rect x="1419" y="847" width="1" height="9" fill="#00b3dd"/>
<rect x="1427" y="845" width="1" height="11" fill="#00b3dd"/>
<rect x="1435" y="846" width="1" height="10" fill="#00b3dd"/>
<rect x="1443" y="846" width="1" height="10" fill="#00b3dd"/>
<rect x="1451" y="850" width="1" height="6" fill="#00b3dd"/>
<rect x="1459" y="853" width="1" height="3" fill="#00b3dd"/>
<rect x="1467" y="850" width="1" height="6" fill="#00b3dd"/>
</g>
<path d="M3 908.5h1M4 907.5h6M10 906.5h5M15 905.5h4M19 905.5h1M20 904.5h3M23 903.5h3M26 902.5h3M29 901.5h4M33 900.5h2M35 900.5h1M36 899.5h3M39 898.5h4M43 897.5h3M46 896.5h4M50 895.5h1M51 895.5h2M53 894.5h3M56 893.5h3M59 892.5h3M62 891.5h3M65 890.5h2M67 890.5h1M68 889.5h2M70 888.5h3M73 887.5h3M76 886.5h3M79 885.5h3M82 884.5h1M83 884.5h1M84 883.5h2M86 882.5h2M88 881.5h2M90 880.5h2M92 879.5h2M94 878.5h2M96 877.5h2M98 876.5h1M99 875.5h2M101 874.5h2M103 873.5h2M105 872.5h2M107 871.5h2M109 870.5h2M111 869.5h2M113 868.5h2M115 867.5h1M116 866.5h2M118 865.5h1M119 864.5h2M121 863.5h1M122 862.5h2M124 861.5h1M125 860.5h2M127 859.5h1M128 858.5h2M130 857.5h1M131 856.5h2M133 855.5h1M134 854.5h2M136 853.5h1M137 852.5h2M139 851.5h2M141 850.5h1M142 849.5h2M144 848.5h1M145 847.5h2M147 846.5h2M149 845.5h3M152 844.5h2M154 843.5h2M156 842.5h3M159 841.5h2M161 840.5h2M163 840.5h1M164 839.5h4M168 838.5h4M172 837.5h4M176 836.5h3M179 836.5h3M182 835.5h8M190 834.5h5M195 834.5h3M198 833.5h8M206 832.5h5M211 832.5h2M213 831.5h5M218 830.5h6M224 829.5h3M227 829.5h5M232 828.5h11M243 828.5h7M250 827.5h9M259 827.5h11M270 827.5h4M274 828.5h7M281 829.5h2M283 829.5h4M287 830.5h6M293 831.5h5M298 832.5h1M299 832.5h16M315 832.5h16M331 832.5h3M334 831.5h6M340 830.5h7M347 829.5h8M355 828.5h8M363 828.5h1M364 827.5h11M375 826.5h4M379 826.5h7M386 825.5h9M395 825.5h8M403 826.5h7M410 827.5h1M411 827.5h3M414 828.5h3M417 829.5h3M420 830.5h4M424 831.5h3M427 832.5h3M430 833.5h2M432 834.5h2M434 835.5h3M437 836.5h2M439 837.5h3M442 838.5h1M443 838.5h1M444 839.5h3M447 840.5h2M449 841.5h2M451 842.5h3M454 843.5h2M456 844.5h3M459 845.5h2M461 846.5h2M463 847.5h2M465 848.5h2M467 849.5h4M471 850.5h4M475 851.5h4M479 852.5h4M483 853.5h6M489 854.5h2M491 854.5h16M507 854.5h3M510 853.5h8M518 852.5h5M523 852.5h3M526 851.5h8M534 850.5h5M539 850.5h2M541 849.5h4M545 848.5h2M547 848.5h1M548 847.5h3M551 846.5h2M553 845.5h3M556 844.5h3M559 843.5h2M561 842.5h2M563 842.5h1M564 841.5h3M567 840.5h2M569 839.5h3M572 838.5h3M575 837.5h2M577 836.5h2M579 836.5h1M580 835.5h3M583 834.5h2M585 833.5h3M588 832.5h3M591 831.5h2M593 830.5h2M595 830.5h1M596 829.5h3M599 828.5h2M601 827.5h3M604 826.5h3M607 825.5h2M609 824.5h2M611 824.5h1M612 823.5h4M616 822.5h3M619 822.5h3M622 821.5h5M627 821.5h16M643 821.5h4M647 822.5h5M652 823.5h6M658 824.5h1M659 824.5h2M661 825.5h2M663 826.5h3M666 827.5h2M668 828.5h2M670 829.5h2M672 830.5h3M675 831.5h1M676 832.5h2M678 833.5h1M679 834.5h1M680 835.5h2M682 836.5h1M683 837.5h2M685 838.5h2M687 839.5h2M689 840.5h2M691 841.5h2M693 842.5h2M695 843.5h2M697 844.5h2M699 845.5h2M701 846.5h3M704 847.5h3M707 848.5h2M709 849.5h3M712 850.5h3M715 851.5h4M719 852.5h5M724 853.5h6M730 854.5h1M731 854.5h6M737 855.5h8M745 856.5h2M747 856.5h6M753 857.5h8M761 858.5h2M763 858.5h2M765 859.5h2M767 860.5h3M770 861.5h2M772 862.5h2M774 863.5h2M776 864.5h3M779 865.5h2M781 866.5h3M784 867.5h3M787 868.5h2M789 869.5h3M792 870.5h3M795 871.5h2M797 872.5h3M800 873.5h3M803 874.5h3M806 875.5h4M810 876.5h1M811 876.5h16M827 876.5h4M831 875.5h4M835 875.5h2M837 874.5h4M841 873.5h4M845 872.5h4M849 871.5h2M851 871.5h2M853 870.5h4M857 869.5h4M861 868.5h4M865 867.5h2M867 867.5h2M869 866.5h4M873 865.5h4M877 864.5h4M881 863.5h2M883 863.5h3M886 862.5h5M891 861.5h6M897 860.5h2M899 860.5h7M906 859.5h9M915 859.5h4M919 858.5h8M927 857.5h4M931 857.5h2M933 856.5h2M935 855.5h2M937 854.5h2M939 853.5h1M940 852.5h2M942 851.5h2M944 850.5h1M945 849.5h2M947 848.5h1M948 847.5h2M950 846.5h1M951 845.5h2M953 844.5h1M954 843.5h2M956 842.5h1M957 841.5h2M959 840.5h1M960 839.5h2M962 838.5h1M963 837.5h2M965 836.5h1M966 835.5h1M967 834.5h2M969 833.5h1M970 832.5h1M971 831.5h2M973 830.5h1M974 829.5h1M975 828.5h2M977 827.5h1M978 826.5h1M979 825.5h2M981 824.5h1M982 823.5h1M983 822.5h2M985 821.5h1M986 820.5h1M987 820.5h1M988 819.5h2M990 818.5h2M992 817.5h2M994 816.5h2M996 815.5h2M998 814.5h2M1000 813.5h2M1002 812.5h1M1003 812.5h2M1005 811.5h6M1011 811.5h7M1018 812.5h7M1025 813.5h2M1027 813.5h2M1029 814.5h3M1032 815.5h2M1034 816.5h3M1037 817.5h3M1040 818.5h2M1042 819.5h1M1043 819.5h2M1045 820.5h2M1047 821.5h2M1049 822.5h3M1052 823.5h2M1054 824.5h2M1056 825.5h2M1058 826.5h1M1059 826.5h2M1061 827.5h2M1063 828.5h2M1065 829.5h2M1067 830.5h2M1069 831.5h2M1071 832.5h2M1073 833.5h2M1075 834.5h2M1077 835.5h3M1080 836.5h2M1082 837.5h3M1085 838.5h3M1088 839.5h2M1090 840.5h1M1091 840.5h2M1093 841.5h2M1095 842.5h2M1097 843.5h3M1100 844.5h2M1102 845.5h2M1104 846.5h2M1106 847.5h1M1107 847.5h3M1110 848.5h4M1114 849.5h4M1118 850.5h4M1122 851.5h1M1123 851.5h4M1127 852.5h5M1132 853.5h5M1137 854.5h2M1139 854.5h6M1145 855.5h9M1154 856.5h1M1155 856.5h20M1175 856.5h7M1182 857.5h10M1192 858.5h3M1195 858.5h4M1199 859.5h5M1204 860.5h5M1209 861.5h2M1211 861.5h4M1215 862.5h5M1220 863.5h5M1225 864.5h2M1227 864.5h3M1230 865.5h3M1233 866.5h3M1236 867.5h3M1239 868.5h3M1242 869.5h1M1243 869.5h3M1246 870.5h3M1249 871.5h3M1252 872.5h3M1255 873.5h3M1258 874.5h1M1259 874.5h3M1262 875.5h4M1266 876.5h4M1270 877.5h4M1274 878.5h1M1275 878.5h4M1279 879.5h5M1284 880.5h5M1289 881.5h2M1291 881.5h6M1297 882.5h9M1306 883.5h1M1307 883.5h16M1323 883.5h32M1355 883.5h8M1363 882.5h8M1371 882.5h3M1374 881.5h4M1378 880.5h5M1383 879.5h2M1385 879.5h2M1387 878.5h2M1389 877.5h3M1392 876.5h2M1394 875.5h1M1395 875.5h1M1396 874.5h1M1397 873.5h2M1399 872.5h1M1400 871.5h1M1401 870.5h1M1402 869.5h1M1403 868.5h2M1405 867.5h3M1408 866.5h2M1410 865.5h1M1411 865.5h1M1412 864.5h2M1414 863.5h1M1415 862.5h2M1417 861.5h2M1419 860.5h2M1421 859.5h2M1423 858.5h2M1425 857.5h2M1427 856.5h2M1429 855.5h2M1431 854.5h3M1434 853.5h1M1435 853.5h1M1436 852.5h2M1438 851.5h3M1441 850.5h2M1443 849.5h3M1446 848.5h4M1450 847.5h1M1451 847.5h3M1454 846.5h5M1459 846.5h7" fill="none" stroke="#000" stroke-width="1" shape-rendering="crispEdges"/>
<g fill="#404040" shape-rendering="crispEdges">
<rect x="2" y="2" width="1869" height="1"/>
<rect x="2" y="2" width="1" height="914"/>
<rect x="1870" y="2" width="1" height="914"/>
<rect x="2" y="669" width="1869" height="1"/>
<rect x="2" y="671" width="1869" height="1"/>
<rect x="2" y="796" width="1869" height="1"/>
<rect x="2" y="798" width="1869" height="1"/>
<rect x="2" y="915" width="1869" height="1"/>
</g>
<rect x="0" y="670" width="1871" height="1" fill="#fff"/>
<rect x="0" y="797" width="1871" height="1" fill="#fff"/>
<path d="M1865.5 337.5 V333.5 H1869.5" fill="none" stroke="#000" stroke-width="1" shape-rendering="crispEdges"/>
<path d="M3.5 337.5 V333.5 H7.5" fill="none" stroke="#000" stroke-width="1" shape-rendering="crispEdges"/>
<g font-size="9px" fill="#000">
<rect x="1871" y="6" width="2" height="1" fill="#404040" shape-rendering="crispEdges"/>
<text transform="translate(1876.3 9.7) scale(0.968 1)" font-size="9.5px" fill="#000" xml:space="preserve">1.31990</text>
<rect x="1871" y="39" width="2" height="1" fill="#404040" shape-rendering="crispEdges"/>
<text transform="translate(1876.3 43.2) scale(0.968 1)" font-size="9.5px" fill="#000" xml:space="preserve">1.31725</text>
<rect x="1871" y="72" width="2" height="1" fill="#404040" shape-rendering="crispEdges"/>
<text transform="translate(1876.3 76.0) scale(0.968 1)" font-size="9.5px" fill="#000" xml:space="preserve">1.31465</text>
<rect x="1871" y="105" width="2" height="1" fill="#404040" shape-rendering="crispEdges"/>
<text transform="translate(1876.3 108.8) scale(0.968 1)" font-size="9.5px" fill="#000" xml:space="preserve">1.31205</text>
<rect x="1871" y="138" width="2" height="1" fill="#404040" shape-rendering="crispEdges"/>
<text transform="translate(1876.3 141.6) scale(0.968 1)" font-size="9.5px" fill="#000" xml:space="preserve">1.30945</text>
<rect x="1871" y="171" width="2" height="1" fill="#404040" shape-rendering="crispEdges"/>
<text transform="translate(1876.3 175.0) scale(0.968 1)" font-size="9.5px" fill="#000" xml:space="preserve">1.30680</text>
<rect x="1871" y="204" width="2" height="1" fill="#404040" shape-rendering="crispEdges"/>
<text transform="translate(1876.3 207.8) scale(0.968 1)" font-size="9.5px" fill="#000" xml:space="preserve">1.30420</text>
<rect x="1871" y="237" width="2" height="1" fill="#404040" shape-rendering="crispEdges"/>
<text transform="translate(1876.3 240.6) scale(0.968 1)" font-size="9.5px" fill="#000" xml:space="preserve">1.30160</text>
<rect x="1871" y="270" width="2" height="1" fill="#404040" shape-rendering="crispEdges"/>
<text transform="translate(1876.3 274.0) scale(0.968 1)" font-size="9.5px" fill="#000" xml:space="preserve">1.29895</text>
<rect x="1871" y="303" width="2" height="1" fill="#404040" shape-rendering="crispEdges"/>
<text transform="translate(1876.3 306.8) scale(0.968 1)" font-size="9.5px" fill="#000" xml:space="preserve">1.29635</text>
<rect x="1871" y="336" width="2" height="1" fill="#404040" shape-rendering="crispEdges"/>
<text transform="translate(1876.3 339.6) scale(0.968 1)" font-size="9.5px" fill="#000" xml:space="preserve">1.29375</text>
<rect x="1871" y="369" width="2" height="1" fill="#404040" shape-rendering="crispEdges"/>
<text transform="translate(1876.3 373.1) scale(0.968 1)" font-size="9.5px" fill="#000" xml:space="preserve">1.29110</text>
<rect x="1871" y="402" width="2" height="1" fill="#404040" shape-rendering="crispEdges"/>
<text transform="translate(1876.3 405.9) scale(0.968 1)" font-size="9.5px" fill="#000" xml:space="preserve">1.28850</text>
<rect x="1871" y="435" width="2" height="1" fill="#404040" shape-rendering="crispEdges"/>
<text transform="translate(1876.3 438.7) scale(0.968 1)" font-size="9.5px" fill="#000" xml:space="preserve">1.28590</text>
<rect x="1871" y="468" width="2" height="1" fill="#404040" shape-rendering="crispEdges"/>
<text transform="translate(1876.3 472.1) scale(0.968 1)" font-size="9.5px" fill="#000" xml:space="preserve">1.28325</text>
<rect x="1871" y="501" width="2" height="1" fill="#404040" shape-rendering="crispEdges"/>
<text transform="translate(1876.3 504.9) scale(0.968 1)" font-size="9.5px" fill="#000" xml:space="preserve">1.28065</text>
<rect x="1871" y="534" width="2" height="1" fill="#404040" shape-rendering="crispEdges"/>
<text transform="translate(1876.3 537.7) scale(0.968 1)" font-size="9.5px" fill="#000" xml:space="preserve">1.27805</text>
<rect x="1871" y="567" width="2" height="1" fill="#404040" shape-rendering="crispEdges"/>
<text transform="translate(1876.3 570.5) scale(0.968 1)" font-size="9.5px" fill="#000" xml:space="preserve">1.27545</text>
<rect x="1871" y="600" width="2" height="1" fill="#404040" shape-rendering="crispEdges"/>
<text transform="translate(1876.3 603.9) scale(0.968 1)" font-size="9.5px" fill="#000" xml:space="preserve">1.27280</text>
<rect x="1871" y="633" width="2" height="1" fill="#404040" shape-rendering="crispEdges"/>
<text transform="translate(1876.3 636.7) scale(0.968 1)" font-size="9.5px" fill="#000" xml:space="preserve">1.27020</text>
<rect x="1871" y="666" width="2" height="1" fill="#404040" shape-rendering="crispEdges"/>
<text transform="translate(1876.3 669.5) scale(0.968 1)" font-size="9.5px" fill="#000" xml:space="preserve">1.26760</text>
</g>
<g font-size="9px" fill="#fff">
<rect x="1872" y="63" width="41" height="11" fill="#000" shape-rendering="crispEdges"/>
<text transform="translate(1876.3 71.8) scale(0.968 1)" font-size="9.5px" fill="#fff" xml:space="preserve">1.31490</text>
<rect x="1872" y="76" width="41" height="11" fill="#000" shape-rendering="crispEdges"/>
<text transform="translate(1876.3 84.8) scale(0.968 1)" font-size="9.5px" fill="#fff" xml:space="preserve">1.31390</text>
<rect x="1872" y="151" width="41" height="11" fill="#000" shape-rendering="crispEdges"/>
<text transform="translate(1876.3 159.8) scale(0.968 1)" font-size="9.5px" fill="#fff" xml:space="preserve">1.30790</text>
<rect x="1872" y="188" width="41" height="11" fill="#000" shape-rendering="crispEdges"/>
<text transform="translate(1876.3 196.8) scale(0.968 1)" font-size="9.5px" fill="#fff" xml:space="preserve">1.30500</text>
<rect x="1872" y="232" width="41" height="11" fill="#404040" shape-rendering="crispEdges"/>
<text transform="translate(1876.3 240.8) scale(0.968 1)" font-size="9.5px" fill="#fff" xml:space="preserve">1.30161</text>
<rect x="1872" y="276" width="41" height="11" fill="#000" shape-rendering="crispEdges"/>
<text transform="translate(1876.3 284.8) scale(0.968 1)" font-size="9.5px" fill="#fff" xml:space="preserve">1.29800</text>
<rect x="1872" y="329" width="41" height="11" fill="#000" shape-rendering="crispEdges"/>
<text transform="translate(1876.3 337.8) scale(0.968 1)" font-size="9.5px" fill="#fff" xml:space="preserve">1.29380</text>
<rect x="1872" y="360" width="41" height="11" fill="#000" shape-rendering="crispEdges"/>
<text transform="translate(1876.3 368.8) scale(0.968 1)" font-size="9.5px" fill="#fff" xml:space="preserve">1.29140</text>
<rect x="1872" y="434" width="41" height="11" fill="#000" shape-rendering="crispEdges"/>
<text transform="translate(1876.3 442.8) scale(0.968 1)" font-size="9.5px" fill="#fff" xml:space="preserve">1.28550</text>
<rect x="1872" y="497" width="41" height="11" fill="#000" shape-rendering="crispEdges"/>
<text transform="translate(1876.3 505.8) scale(0.968 1)" font-size="9.5px" fill="#fff" xml:space="preserve">1.28050</text>
<rect x="1872" y="565" width="41" height="11" fill="#000" shape-rendering="crispEdges"/>
<text transform="translate(1876.3 573.8) scale(0.968 1)" font-size="9.5px" fill="#fff" xml:space="preserve">1.27510</text>
<rect x="1872" y="646" width="41" height="11" fill="#000" shape-rendering="crispEdges"/>
<text transform="translate(1876.3 654.8) scale(0.968 1)" font-size="9.5px" fill="#fff" xml:space="preserve">1.26870</text>
</g>
<g font-size="9px" fill="#000">
<text transform="translate(1874.1 682.0) scale(0.968 1)" font-size="9.5px" fill="#000" xml:space="preserve">100</text>
<text transform="translate(1874.1 700.5) scale(0.968 1)" font-size="9.5px" fill="#000" xml:space="preserve">80</text>
<text transform="translate(1874.1 774.8) scale(0.968 1)" font-size="9.5px" fill="#000" xml:space="preserve">20</text>
<text transform="translate(1874.1 792.8) scale(0.968 1)" font-size="9.5px" fill="#000" xml:space="preserve">0</text>
<text transform="translate(1874.1 808.3) scale(0.968 1)" font-size="9.5px" fill="#000" xml:space="preserve">0.005368</text>
<text transform="translate(1874.1 859.8) scale(0.968 1)" font-size="9.5px" fill="#000" xml:space="preserve">0.00</text>
<text transform="translate(1874.1 912.0) scale(0.968 1)" font-size="9.5px" fill="#000" xml:space="preserve">-0.00548</text>
</g>
<rect x="1871" y="673" width="2" height="1" fill="#404040" shape-rendering="crispEdges"/>
<rect x="1871" y="697" width="2" height="1" fill="#404040" shape-rendering="crispEdges"/>
<rect x="1871" y="771" width="2" height="1" fill="#404040" shape-rendering="crispEdges"/>
<rect x="1871" y="856" width="2" height="1" fill="#404040" shape-rendering="crispEdges"/>
<rect x="1871" y="914" width="2" height="1" fill="#404040" shape-rendering="crispEdges"/>
<g font-size="9px" fill="#000">
<rect x="3" y="916" width="1" height="3" fill="#404040" shape-rendering="crispEdges"/>
<text transform="translate(1.7 928.1) scale(0.963 1)" font-size="9.5px" fill="#000" xml:space="preserve">24 Sep 2020</text>
<rect x="67" y="916" width="1" height="3" fill="#404040" shape-rendering="crispEdges"/>
<text transform="translate(65.7 928.1) scale(0.963 1)" font-size="9.5px" fill="#000" xml:space="preserve">27 Sep 23:05</text>
<rect x="131" y="916" width="1" height="3" fill="#404040" shape-rendering="crispEdges"/>
<text transform="translate(129.7 928.1) scale(0.963 1)" font-size="9.5px" fill="#000" xml:space="preserve">29 Sep 04:00</text>
<rect x="195" y="916" width="1" height="3" fill="#404040" shape-rendering="crispEdges"/>
<text transform="translate(193.7 928.1) scale(0.963 1)" font-size="9.5px" fill="#000" xml:space="preserve">30 Sep 12:00</text>
<rect x="259" y="916" width="1" height="3" fill="#404040" shape-rendering="crispEdges"/>
<text transform="translate(257.7 928.1) scale(0.963 1)" font-size="9.5px" fill="#000" xml:space="preserve">1 Oct 20:00</text>
<rect x="323" y="916" width="1" height="3" fill="#404040" shape-rendering="crispEdges"/>
<text transform="translate(321.7 928.1) scale(0.963 1)" font-size="9.5px" fill="#000" xml:space="preserve">5 Oct 00:00</text>
<rect x="387" y="916" width="1" height="3" fill="#404040" shape-rendering="crispEdges"/>
<text transform="translate(385.7 928.1) scale(0.963 1)" font-size="9.5px" fill="#000" xml:space="preserve">6 Oct 08:00</text>
<rect x="451" y="916" width="1" height="3" fill="#404040" shape-rendering="crispEdges"/>
<text transform="translate(449.7 928.1) scale(0.963 1)" font-size="9.5px" fill="#000" xml:space="preserve">7 Oct 16:00</text>
<rect x="515" y="916" width="1" height="3" fill="#404040" shape-rendering="crispEdges"/>
<text transform="translate(513.7 928.1) scale(0.963 1)" font-size="9.5px" fill="#000" xml:space="preserve">9 Oct 00:00</text>
<rect x="579" y="916" width="1" height="3" fill="#404040" shape-rendering="crispEdges"/>
<text transform="translate(577.7 928.1) scale(0.963 1)" font-size="9.5px" fill="#000" xml:space="preserve">12 Oct 04:00</text>
<rect x="643" y="916" width="1" height="3" fill="#404040" shape-rendering="crispEdges"/>
<text transform="translate(641.7 928.1) scale(0.963 1)" font-size="9.5px" fill="#000" xml:space="preserve">13 Oct 12:00</text>
<rect x="707" y="916" width="1" height="3" fill="#404040" shape-rendering="crispEdges"/>
<text transform="translate(705.7 928.1) scale(0.963 1)" font-size="9.5px" fill="#000" xml:space="preserve">14 Oct 20:00</text>
<rect x="771" y="916" width="1" height="3" fill="#404040" shape-rendering="crispEdges"/>
<text transform="translate(769.7 928.1) scale(0.963 1)" font-size="9.5px" fill="#000" xml:space="preserve">16 Oct 04:00</text>
<rect x="835" y="916" width="1" height="3" fill="#404040" shape-rendering="crispEdges"/>
<text transform="translate(833.7 928.1) scale(0.963 1)" font-size="9.5px" fill="#000" xml:space="preserve">19 Oct 08:00</text>
<rect x="899" y="916" width="1" height="3" fill="#404040" shape-rendering="crispEdges"/>
<text transform="translate(897.7 928.1) scale(0.963 1)" font-size="9.5px" fill="#000" xml:space="preserve">20 Oct 16:00</text>
<rect x="963" y="916" width="1" height="3" fill="#404040" shape-rendering="crispEdges"/>
<text transform="translate(961.7 928.1) scale(0.963 1)" font-size="9.5px" fill="#000" xml:space="preserve">22 Oct 00:00</text>
<rect x="1027" y="916" width="1" height="3" fill="#404040" shape-rendering="crispEdges"/>
<text transform="translate(1025.7 928.1) scale(0.963 1)" font-size="9.5px" fill="#000" xml:space="preserve">23 Oct 08:00</text>
<rect x="1091" y="916" width="1" height="3" fill="#404040" shape-rendering="crispEdges"/>
<text transform="translate(1089.7 928.1) scale(0.963 1)" font-size="9.5px" fill="#000" xml:space="preserve">26 Oct 12:00</text>
<rect x="1155" y="916" width="1" height="3" fill="#404040" shape-rendering="crispEdges"/>
<text transform="translate(1153.7 928.1) scale(0.963 1)" font-size="9.5px" fill="#000" xml:space="preserve">27 Oct 20:00</text>
<rect x="1219" y="916" width="1" height="3" fill="#404040" shape-rendering="crispEdges"/>
<text transform="translate(1217.7 928.1) scale(0.963 1)" font-size="9.5px" fill="#000" xml:space="preserve">29 Oct 04:00</text>
<rect x="1283" y="916" width="1" height="3" fill="#404040" shape-rendering="crispEdges"/>
<text transform="translate(1281.7 928.1) scale(0.963 1)" font-size="9.5px" fill="#000" xml:space="preserve">30 Oct 12:00</text>
<rect x="1347" y="916" width="1" height="3" fill="#404040" shape-rendering="crispEdges"/>
<text transform="translate(1345.7 928.1) scale(0.963 1)" font-size="9.5px" fill="#000" xml:space="preserve">2 Nov 16:00</text>
<rect x="1411" y="916" width="1" height="3" fill="#404040" shape-rendering="crispEdges"/>
<text transform="translate(1409.7 928.1) scale(0.963 1)" font-size="9.5px" fill="#000" xml:space="preserve">4 Nov 00:00</text>
</g>
<g font-size="9px" fill="#000">
<path d="M6 9 L13 9 L9.5 12.9 Z" fill="#000"/>
<text transform="translate(18.2 13.7) scale(0.980 1)" font-size="9.5px" fill="#000" xml:space="preserve">GBPUSD,H4&#160;&#160;1.29580 1.30406 1.29386 1.30161</text>
<text transform="translate(7.3 684.0) scale(0.961 1)" font-size="9.5px" fill="#000" xml:space="preserve">RSI(14) 53.7933</text>
<text transform="translate(7.3 811.0) scale(0.985 1)" font-size="9.5px" fill="#000" xml:space="preserve">MACD(12,26,9) 0.000686 0.001001</text>
</g>
<rect x="152" y="14" width="117" height="60" fill="#fff"/>
<g fill="url(#lg)">
<path d="M171.2 22.9 H180.5 V57 Q180.5 69.3 167 69.3 H160.3 V61 H166 Q171.2 61 171.2 55.5 Z"/>
<path d="M187.7 22.9 H218.9 V31.5 H197 V41.8 H212.3 V50.1 H197 V69.3 H187.7 Z"/>
<rect x="224.9" y="22.9" width="2.3" height="46.4"/><rect x="222.5" y="38.8" width="7" height="14.9"/>
<path d="M229.8 22.9 H240 C253 22.9 260.3 31 260.3 46.1 C260.3 61.2 253 69.3 240 69.3 H229.8 V60.7 H239.5 C247.5 60.7 251 55.5 251 46.1 C251 36.7 247.5 31.5 239.5 31.5 H229.8 Z"/>
</g>
<line x1="948" y1="34.9" x2="1700" y2="111.4" stroke="#00b3dd" stroke-width="2" shape-rendering="crispEdges"/>
<path d="M1487.2 195.3 C1497 178 1503 159.7 1510.3 159.7 C1518 159.7 1519 190.3 1527.8 190.3 C1540 190.3 1551 150 1567 104" fill="none" stroke="#00b3dd" stroke-width="2.3"/>
<path d="M1569.5 96 L1571.2 107 L1561.8 103.5 Z" fill="#00b3dd"/>
<path d="M1510.3 332.4 C1518 348 1524 366.8 1531.6 366.8 C1539 366.8 1540 337.2 1550.3 337.2 C1565 337.2 1590.5 400 1609.3 431.5" fill="none" stroke="#4a5764" stroke-width="2.1"/>
<path d="M1612.8 440 L1603.9 433.6 L1612.8 429 Z" fill="#4a5764"/>
<g font-weight="bold" font-size="15px">
<text x="1788.0" y="63.7" textLength="52.5" lengthAdjust="spacingAndGlyphs" fill="#0db0dc" font-size="15.3px"><tspan dy="-2.3">~</tspan><tspan dy="2.3">1.3149</tspan></text>
<text x="1748.2" y="97.0" textLength="52.5" lengthAdjust="spacingAndGlyphs" fill="#0db0dc" font-size="15.3px"><tspan dy="-2.3">~</tspan><tspan dy="2.3">1.3139</tspan></text>
<text x="1778.8" y="156.4" textLength="52.5" lengthAdjust="spacingAndGlyphs" fill="#0db0dc" font-size="15.3px"><tspan dy="-2.3">~</tspan><tspan dy="2.3">1.3079</tspan></text>
<text x="1778.3" y="190.3" textLength="52.5" lengthAdjust="spacingAndGlyphs" fill="#0db0dc" font-size="15.3px"><tspan dy="-2.3">~</tspan><tspan dy="2.3">1.3050</tspan></text>
<text x="1781.3" y="279.2" textLength="52.5" lengthAdjust="spacingAndGlyphs" fill="#0db0dc" font-size="15.3px"><tspan dy="-2.3">~</tspan><tspan dy="2.3">1.2980</tspan></text>
<text x="1784.0" y="330.3" textLength="52.5" lengthAdjust="spacingAndGlyphs" fill="#56626e" font-size="15.3px"><tspan dy="-2.3">~</tspan><tspan dy="2.3">1.2938</tspan></text>
<text x="1785.0" y="365.3" textLength="52.5" lengthAdjust="spacingAndGlyphs" fill="#56626e" font-size="15.3px"><tspan dy="-2.3">~</tspan><tspan dy="2.3">1.2914</tspan></text>
<text x="1787.0" y="434.0" textLength="52.5" lengthAdjust="spacingAndGlyphs" fill="#56626e" font-size="15.3px"><tspan dy="-2.3">~</tspan><tspan dy="2.3">1.2855</tspan></text>
<text x="981.0" y="225.0" textLength="50.0" lengthAdjust="spacingAndGlyphs" fill="#ffc90e">21 EMA</text>
<text x="1008.8" y="261.4" textLength="50.2" lengthAdjust="spacingAndGlyphs" fill="#ff0000">50 EMA</text>
<text x="1003.8" y="293.2" textLength="58.4" lengthAdjust="spacingAndGlyphs" fill="#00f53c">100 EMA</text>
<text x="1035.0" y="315.2" textLength="59.0" lengthAdjust="spacingAndGlyphs" fill="#000">200 EMA</text>
</g>
</svg></body></html>
